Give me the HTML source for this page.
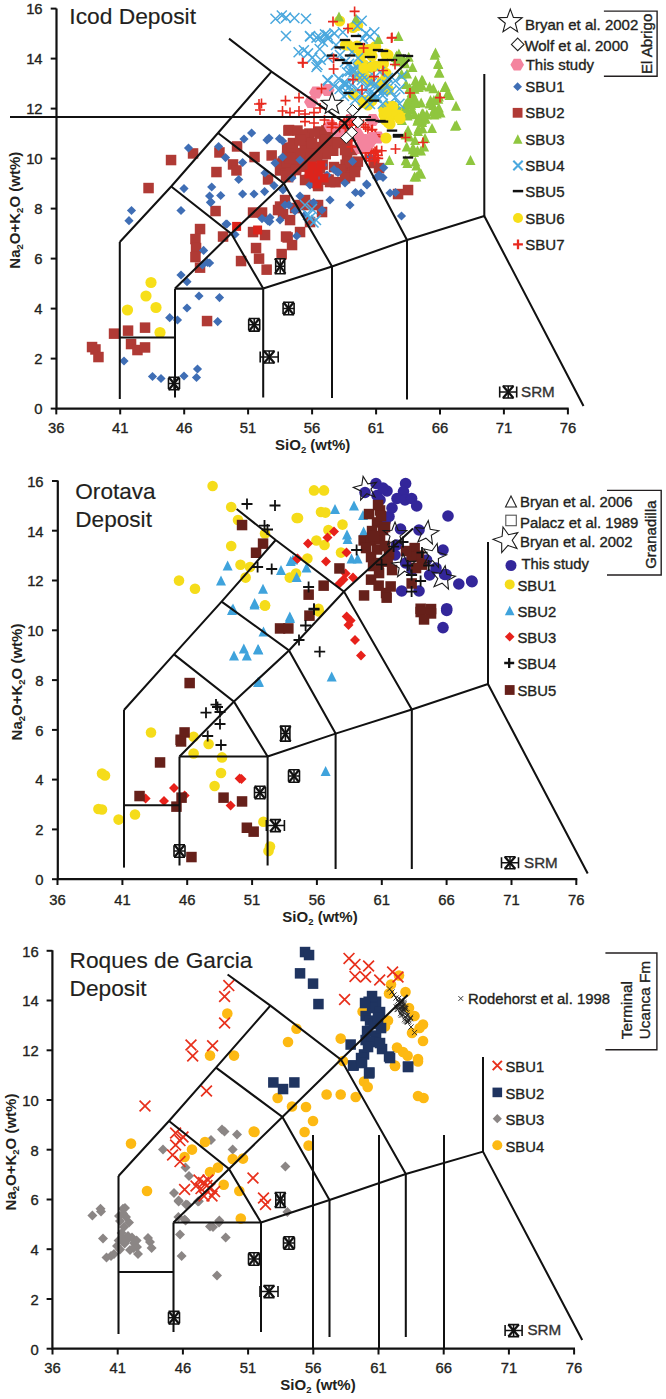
<!DOCTYPE html><html><head><meta charset="utf-8"><style>html,body{margin:0;padding:0;background:#fff}svg{display:block}text{font-family:"Liberation Sans",sans-serif}</style></head><body>
<svg width="666" height="1399" viewBox="0 0 666 1399">
<rect width="666" height="1399" fill="#fff"/>
<g>
<rect x="165.8" y="154.8" width="10.5" height="10.5" fill="#b03a35"/>
<rect x="143.3" y="182.8" width="10.5" height="10.5" fill="#b03a35"/>
<rect x="187.8" y="148.2" width="10.5" height="10.5" fill="#b03a35"/>
<rect x="214.2" y="147.2" width="10.5" height="10.5" fill="#b03a35"/>
<rect x="211.2" y="166.8" width="10.5" height="10.5" fill="#b03a35"/>
<rect x="231.8" y="141.2" width="10.5" height="10.5" fill="#b03a35"/>
<rect x="227.8" y="159.2" width="10.5" height="10.5" fill="#b03a35"/>
<rect x="231.2" y="165.2" width="10.5" height="10.5" fill="#b03a35"/>
<rect x="249.3" y="151.8" width="10.5" height="10.5" fill="#b03a35"/>
<rect x="266.4" y="150.2" width="10.5" height="10.5" fill="#b03a35"/>
<rect x="283.8" y="124.8" width="10.5" height="10.5" fill="#b03a35"/>
<rect x="210.3" y="205.8" width="10.5" height="10.5" fill="#b03a35"/>
<rect x="194.8" y="223.8" width="10.5" height="10.5" fill="#b03a35"/>
<rect x="217.8" y="231.3" width="10.5" height="10.5" fill="#b03a35"/>
<rect x="247.8" y="207.3" width="10.5" height="10.5" fill="#b03a35"/>
<rect x="256.8" y="207.3" width="10.5" height="10.5" fill="#b03a35"/>
<rect x="274.8" y="201.3" width="10.5" height="10.5" fill="#b03a35"/>
<rect x="277.8" y="208.8" width="10.5" height="10.5" fill="#b03a35"/>
<rect x="262.8" y="174.2" width="10.5" height="10.5" fill="#b03a35"/>
<rect x="274.8" y="165.2" width="10.5" height="10.5" fill="#b03a35"/>
<rect x="283.8" y="165.2" width="10.5" height="10.5" fill="#b03a35"/>
<rect x="247.8" y="226.8" width="10.5" height="10.5" fill="#b03a35"/>
<rect x="259.8" y="229.8" width="10.5" height="10.5" fill="#b03a35"/>
<rect x="280.8" y="231.3" width="10.5" height="10.5" fill="#b03a35"/>
<rect x="286.8" y="148.8" width="10.5" height="10.5" fill="#b03a35"/>
<rect x="190.2" y="233.8" width="10.5" height="10.5" fill="#b03a35"/>
<rect x="190.8" y="242.8" width="10.5" height="10.5" fill="#b03a35"/>
<rect x="190.2" y="251.8" width="10.5" height="10.5" fill="#b03a35"/>
<rect x="194.8" y="262.4" width="10.5" height="10.5" fill="#b03a35"/>
<rect x="250.8" y="242.8" width="10.5" height="10.5" fill="#b03a35"/>
<rect x="253.8" y="253.4" width="10.5" height="10.5" fill="#b03a35"/>
<rect x="235.8" y="255.8" width="10.5" height="10.5" fill="#b03a35"/>
<rect x="261.4" y="264.4" width="10.5" height="10.5" fill="#b03a35"/>
<rect x="282.4" y="232.2" width="10.5" height="10.5" fill="#b03a35"/>
<rect x="286.8" y="239.8" width="10.5" height="10.5" fill="#b03a35"/>
<rect x="276.4" y="248.8" width="10.5" height="10.5" fill="#b03a35"/>
<rect x="201.8" y="315.8" width="10.5" height="10.5" fill="#b03a35"/>
<rect x="139.8" y="322.4" width="10.5" height="10.5" fill="#b03a35"/>
<rect x="122.8" y="325.4" width="10.5" height="10.5" fill="#b03a35"/>
<rect x="108.8" y="328.4" width="10.5" height="10.5" fill="#b03a35"/>
<rect x="90.2" y="344.2" width="10.5" height="10.5" fill="#b03a35"/>
<rect x="93.2" y="351.8" width="10.5" height="10.5" fill="#b03a35"/>
<rect x="125.8" y="338.8" width="10.5" height="10.5" fill="#b03a35"/>
<rect x="132.2" y="344.8" width="10.5" height="10.5" fill="#b03a35"/>
<rect x="139.8" y="342.2" width="10.5" height="10.5" fill="#b03a35"/>
<rect x="86.8" y="341.8" width="10.5" height="10.5" fill="#b03a35"/>
<rect x="402.8" y="184.8" width="10.5" height="10.5" fill="#b03a35"/>
<rect x="392.8" y="188.8" width="10.5" height="10.5" fill="#b03a35"/>
<rect x="283.2" y="125.3" width="10.5" height="10.5" fill="#b03a35"/>
<rect x="292.2" y="125.3" width="10.5" height="10.5" fill="#b03a35"/>
<rect x="304.2" y="128.3" width="10.5" height="10.5" fill="#b03a35"/>
<rect x="314.8" y="128.3" width="10.5" height="10.5" fill="#b03a35"/>
<rect x="294.8" y="199.8" width="10.5" height="10.5" fill="#b03a35"/>
<rect x="303.8" y="199.8" width="10.5" height="10.5" fill="#b03a35"/>
<rect x="284.8" y="214.8" width="10.5" height="10.5" fill="#b03a35"/>
<rect x="294.8" y="226.8" width="10.5" height="10.5" fill="#b03a35"/>
<rect x="304.8" y="216.8" width="10.5" height="10.5" fill="#b03a35"/>
<rect x="296.6" y="135.2" width="10.5" height="10.5" fill="#b03a35"/>
<rect x="321.2" y="125.1" width="10.5" height="10.5" fill="#b03a35"/>
<rect x="315.9" y="144.3" width="10.5" height="10.5" fill="#b03a35"/>
<rect x="280.3" y="160.5" width="10.5" height="10.5" fill="#b03a35"/>
<rect x="277.7" y="156.5" width="10.5" height="10.5" fill="#b03a35"/>
<rect x="312.9" y="173.2" width="10.5" height="10.5" fill="#b03a35"/>
<rect x="281.9" y="142.8" width="10.5" height="10.5" fill="#b03a35"/>
<rect x="330.3" y="176.9" width="10.5" height="10.5" fill="#b03a35"/>
<rect x="319.5" y="145.4" width="10.5" height="10.5" fill="#b03a35"/>
<rect x="340.2" y="134.4" width="10.5" height="10.5" fill="#b03a35"/>
<rect x="303.7" y="174.5" width="10.5" height="10.5" fill="#b03a35"/>
<rect x="290.8" y="162.8" width="10.5" height="10.5" fill="#b03a35"/>
<rect x="324" y="143" width="10.5" height="10.5" fill="#b03a35"/>
<rect x="313" y="126.3" width="10.5" height="10.5" fill="#b03a35"/>
<rect x="328" y="145.5" width="10.5" height="10.5" fill="#b03a35"/>
<rect x="301.3" y="160.9" width="10.5" height="10.5" fill="#b03a35"/>
<rect x="308.6" y="141.8" width="10.5" height="10.5" fill="#b03a35"/>
<rect x="340.3" y="159.5" width="10.5" height="10.5" fill="#b03a35"/>
<rect x="295.7" y="161.4" width="10.5" height="10.5" fill="#b03a35"/>
<rect x="321.4" y="174.3" width="10.5" height="10.5" fill="#b03a35"/>
<rect x="330.1" y="136.5" width="10.5" height="10.5" fill="#b03a35"/>
<rect x="311.6" y="169.2" width="10.5" height="10.5" fill="#b03a35"/>
<rect x="287.4" y="157.9" width="10.5" height="10.5" fill="#b03a35"/>
<rect x="280.8" y="170.3" width="10.5" height="10.5" fill="#b03a35"/>
<rect x="341.8" y="135.6" width="10.5" height="10.5" fill="#b03a35"/>
<rect x="320.5" y="148.9" width="10.5" height="10.5" fill="#b03a35"/>
<rect x="314.8" y="162.8" width="10.5" height="10.5" fill="#b03a35"/>
<rect x="282.9" y="171.9" width="10.5" height="10.5" fill="#b03a35"/>
<rect x="337.3" y="134.8" width="10.5" height="10.5" fill="#b03a35"/>
<rect x="307.9" y="164.5" width="10.5" height="10.5" fill="#b03a35"/>
<rect x="276.9" y="158.4" width="10.5" height="10.5" fill="#b03a35"/>
<rect x="282.6" y="144.1" width="10.5" height="10.5" fill="#b03a35"/>
<rect x="310.8" y="176.4" width="10.5" height="10.5" fill="#b03a35"/>
<rect x="281.3" y="156.7" width="10.5" height="10.5" fill="#b03a35"/>
<rect x="323.4" y="174.4" width="10.5" height="10.5" fill="#b03a35"/>
<rect x="344.3" y="168.8" width="10.5" height="10.5" fill="#b03a35"/>
<rect x="296.4" y="151.5" width="10.5" height="10.5" fill="#b03a35"/>
<rect x="308.5" y="177.6" width="10.5" height="10.5" fill="#b03a35"/>
<rect x="286.1" y="142.4" width="10.5" height="10.5" fill="#b03a35"/>
<rect x="293.7" y="156.3" width="10.5" height="10.5" fill="#b03a35"/>
<rect x="318.8" y="137.3" width="10.5" height="10.5" fill="#b03a35"/>
<rect x="305.3" y="158.8" width="10.5" height="10.5" fill="#b03a35"/>
<rect x="352.6" y="156.4" width="10.5" height="10.5" fill="#b03a35"/>
<rect x="317.4" y="159.4" width="10.5" height="10.5" fill="#b03a35"/>
<rect x="323" y="123.6" width="10.5" height="10.5" fill="#b03a35"/>
<rect x="349.5" y="162.5" width="10.5" height="10.5" fill="#b03a35"/>
<rect x="347.8" y="164" width="10.5" height="10.5" fill="#b03a35"/>
<rect x="305.1" y="148.6" width="10.5" height="10.5" fill="#b03a35"/>
<rect x="285.4" y="167.2" width="10.5" height="10.5" fill="#b03a35"/>
<rect x="287.7" y="137.8" width="10.5" height="10.5" fill="#b03a35"/>
<rect x="296.7" y="129.2" width="10.5" height="10.5" fill="#b03a35"/>
<rect x="281.9" y="151.4" width="10.5" height="10.5" fill="#b03a35"/>
<rect x="319.3" y="130.2" width="10.5" height="10.5" fill="#b03a35"/>
<rect x="293.5" y="147.9" width="10.5" height="10.5" fill="#b03a35"/>
<rect x="299.4" y="132.9" width="10.5" height="10.5" fill="#b03a35"/>
<rect x="311.9" y="152.4" width="10.5" height="10.5" fill="#b03a35"/>
<rect x="299.5" y="141.6" width="10.5" height="10.5" fill="#b03a35"/>
<rect x="336.3" y="127.4" width="10.5" height="10.5" fill="#b03a35"/>
<rect x="368.8" y="157.8" width="10.5" height="10.5" fill="#b03a35"/>
<rect x="373.8" y="162.8" width="10.5" height="10.5" fill="#b03a35"/>
<rect x="346.8" y="144.8" width="10.5" height="10.5" fill="#b03a35"/>
<rect x="350.8" y="159.8" width="10.5" height="10.5" fill="#b03a35"/>
<rect x="344.8" y="170.8" width="10.5" height="10.5" fill="#b03a35"/>
<rect x="328.8" y="161.8" width="10.5" height="10.5" fill="#b03a35"/>
<rect x="335.8" y="163.8" width="10.5" height="10.5" fill="#b03a35"/>
<rect x="341.8" y="154.8" width="10.5" height="10.5" fill="#b03a35"/>
<rect x="279.8" y="194.8" width="10.5" height="10.5" fill="#b03a35"/>
<rect x="289.8" y="202.8" width="10.5" height="10.5" fill="#b03a35"/>
<rect x="299.8" y="194.8" width="10.5" height="10.5" fill="#b03a35"/>
<rect x="272.8" y="204.8" width="10.5" height="10.5" fill="#b03a35"/>
<rect x="312.8" y="199.8" width="10.5" height="10.5" fill="#b03a35"/>
<rect x="316.8" y="206.8" width="10.5" height="10.5" fill="#b03a35"/>
<rect x="294.8" y="134.8" width="10.5" height="10.5" fill="#b03a35"/>
<rect x="306.8" y="137.8" width="10.5" height="10.5" fill="#b03a35"/>
<rect x="320.8" y="134.8" width="10.5" height="10.5" fill="#b03a35"/>
<rect x="332.8" y="137.8" width="10.5" height="10.5" fill="#b03a35"/>
<rect x="339.8" y="144.8" width="10.5" height="10.5" fill="#b03a35"/>
<rect x="344.8" y="156.8" width="10.5" height="10.5" fill="#b03a35"/>
<rect x="334.8" y="164.8" width="10.5" height="10.5" fill="#b03a35"/>
<rect x="324.8" y="176.8" width="10.5" height="10.5" fill="#b03a35"/>
<rect x="312.8" y="180.8" width="10.5" height="10.5" fill="#b03a35"/>
<rect x="299.8" y="174.8" width="10.5" height="10.5" fill="#b03a35"/>
<rect x="290.8" y="164.8" width="10.5" height="10.5" fill="#b03a35"/>
<rect x="284.8" y="152.8" width="10.5" height="10.5" fill="#b03a35"/>
<rect x="339.8" y="172.8" width="10.5" height="10.5" fill="#b03a35"/>
<rect x="349.8" y="166.8" width="10.5" height="10.5" fill="#b03a35"/>
<path d="M352.5 156.8L357.1 161.4L352.5 166L347.9 161.4Z" fill="#3f6eb5"/>
<path d="M337.7 167.4L342.3 172L337.7 176.6L333.1 172Z" fill="#3f6eb5"/>
<path d="M334 164.9L338.6 169.5L334 174.1L329.4 169.5Z" fill="#3f6eb5"/>
<path d="M323 160.4L327.6 165L323 169.6L318.4 165Z" fill="#3f6eb5"/>
<path d="M366.6 179.4L371.2 184L366.6 188.6L362 184Z" fill="#3f6eb5"/>
<path d="M361 188.4L365.6 193L361 197.6L356.4 193Z" fill="#3f6eb5"/>
<path d="M370 152.4L374.6 157L370 161.6L365.4 157Z" fill="#3f6eb5"/>
<path d="M380 171.4L384.6 176L380 180.6L375.4 176Z" fill="#3f6eb5"/>
<path d="M383.7 163.1L388.3 167.7L383.7 172.3L379.1 167.7Z" fill="#3f6eb5"/>
<path d="M390 188.4L394.6 193L390 197.6L385.4 193Z" fill="#3f6eb5"/>
<path d="M376.5 173.1L381.1 177.7L376.5 182.3L371.9 177.7Z" fill="#3f6eb5"/>
<path d="M188.5 143.4L193.1 148L188.5 152.6L183.9 148Z" fill="#3f6eb5"/>
<path d="M218.6 141.9L223.2 146.5L218.6 151.1L214 146.5Z" fill="#3f6eb5"/>
<path d="M225.5 153L230.1 157.6L225.5 162.2L220.9 157.6Z" fill="#3f6eb5"/>
<path d="M244 134.4L248.6 139L244 143.6L239.4 139Z" fill="#3f6eb5"/>
<path d="M251.6 128.4L256.2 133L251.6 137.6L247 133Z" fill="#3f6eb5"/>
<path d="M267 135.4L271.6 140L267 144.6L262.4 140Z" fill="#3f6eb5"/>
<path d="M282.6 136.4L287.2 141L282.6 145.6L278 141Z" fill="#3f6eb5"/>
<path d="M242.6 157.9L247.2 162.5L242.6 167.1L238 162.5Z" fill="#3f6eb5"/>
<path d="M282.6 152.4L287.2 157L282.6 161.6L278 157Z" fill="#3f6eb5"/>
<path d="M275 158.4L279.6 163L275 167.6L270.4 163Z" fill="#3f6eb5"/>
<path d="M265 168.4L269.6 173L265 177.6L260.4 173Z" fill="#3f6eb5"/>
<path d="M238.7 174.9L243.3 179.5L238.7 184.1L234.1 179.5Z" fill="#3f6eb5"/>
<path d="M184 184L188.6 188.6L184 193.2L179.4 188.6Z" fill="#3f6eb5"/>
<path d="M211.7 182.4L216.3 187L211.7 191.6L207.1 187Z" fill="#3f6eb5"/>
<path d="M209.6 191.4L214.2 196L209.6 200.6L205 196Z" fill="#3f6eb5"/>
<path d="M220.7 190.9L225.3 195.5L220.7 200.1L216.1 195.5Z" fill="#3f6eb5"/>
<path d="M211 197.4L215.6 202L211 206.6L206.4 202Z" fill="#3f6eb5"/>
<path d="M181 205.9L185.6 210.5L181 215.1L176.4 210.5Z" fill="#3f6eb5"/>
<path d="M242.6 189.4L247.2 194L242.6 198.6L238 194Z" fill="#3f6eb5"/>
<path d="M254 189.4L258.6 194L254 198.6L249.4 194Z" fill="#3f6eb5"/>
<path d="M264.6 187L269.2 191.6L264.6 196.2L260 191.6Z" fill="#3f6eb5"/>
<path d="M274 181L278.6 185.6L274 190.2L269.4 185.6Z" fill="#3f6eb5"/>
<path d="M283 185.4L287.6 190L283 194.6L278.4 190Z" fill="#3f6eb5"/>
<path d="M131.5 205.9L136.1 210.5L131.5 215.1L126.9 210.5Z" fill="#3f6eb5"/>
<path d="M129 216.1L133.6 220.7L129 225.3L124.4 220.7Z" fill="#3f6eb5"/>
<path d="M227 219.4L231.6 224L227 228.6L222.4 224Z" fill="#3f6eb5"/>
<path d="M262 214L266.6 218.6L262 223.2L257.4 218.6Z" fill="#3f6eb5"/>
<path d="M269.7 217L274.3 221.6L269.7 226.2L265.1 221.6Z" fill="#3f6eb5"/>
<path d="M289 200.4L293.6 205L289 209.6L284.4 205Z" fill="#3f6eb5"/>
<path d="M295 206.4L299.6 211L295 215.6L290.4 211Z" fill="#3f6eb5"/>
<path d="M210.5 197.8L215.1 202.4L210.5 207L205.9 202.4Z" fill="#3f6eb5"/>
<path d="M226 219.4L230.6 224L226 228.6L221.4 224Z" fill="#3f6eb5"/>
<path d="M235 229.9L239.6 234.5L235 239.1L230.4 234.5Z" fill="#3f6eb5"/>
<path d="M203.6 245.8L208.2 250.4L203.6 255L199 250.4Z" fill="#3f6eb5"/>
<path d="M209.6 258.4L214.2 263L209.6 267.6L205 263Z" fill="#3f6eb5"/>
<path d="M181 270.4L185.6 275L181 279.6L176.4 275Z" fill="#3f6eb5"/>
<path d="M187 277.1L191.6 281.7L187 286.3L182.4 281.7Z" fill="#3f6eb5"/>
<path d="M199 291.4L203.6 296L199 300.6L194.4 296Z" fill="#3f6eb5"/>
<path d="M219.5 293L224.1 297.6L219.5 302.2L214.9 297.6Z" fill="#3f6eb5"/>
<path d="M187 303.4L191.6 308L187 312.6L182.4 308Z" fill="#3f6eb5"/>
<path d="M169.7 313.1L174.3 317.7L169.7 322.3L165.1 317.7Z" fill="#3f6eb5"/>
<path d="M177.5 315.4L182.1 320L177.5 324.6L172.9 320Z" fill="#3f6eb5"/>
<path d="M217.7 317L222.3 321.6L217.7 326.2L213.1 321.6Z" fill="#3f6eb5"/>
<path d="M296.7 231.4L301.3 236L296.7 240.6L292.1 236Z" fill="#3f6eb5"/>
<path d="M268 216.4L272.6 221L268 225.6L263.4 221Z" fill="#3f6eb5"/>
<path d="M124 356.4L128.6 361L124 365.6L119.4 361Z" fill="#3f6eb5"/>
<path d="M152.5 371.9L157.1 376.5L152.5 381.1L147.9 376.5Z" fill="#3f6eb5"/>
<path d="M161 373.9L165.6 378.5L161 383.1L156.4 378.5Z" fill="#3f6eb5"/>
<path d="M184 371.4L188.6 376L184 380.6L179.4 376Z" fill="#3f6eb5"/>
<path d="M197.5 364.4L202.1 369L197.5 373.6L192.9 369Z" fill="#3f6eb5"/>
<path d="M196.5 372.9L201.1 377.5L196.5 382.1L191.9 377.5Z" fill="#3f6eb5"/>
<path d="M202.5 260.4L207.1 265L202.5 269.6L197.9 265Z" fill="#3f6eb5"/>
<path d="M207.5 257.9L212.1 262.5L207.5 267.1L202.9 262.5Z" fill="#3f6eb5"/>
<path d="M313.5 197.9L318.1 202.5L313.5 207.1L308.9 202.5Z" fill="#3f6eb5"/>
<path d="M285 200.4L289.6 205L285 209.6L280.4 205Z" fill="#3f6eb5"/>
<path d="M270 212.9L274.6 217.5L270 222.1L265.4 217.5Z" fill="#3f6eb5"/>
<path d="M280 215.4L284.6 220L280 224.6L275.4 220Z" fill="#3f6eb5"/>
<path d="M383 172.9L387.6 177.5L383 182.1L378.4 177.5Z" fill="#3f6eb5"/>
<path d="M367 180.4L371.6 185L367 189.6L362.4 185Z" fill="#3f6eb5"/>
<path d="M395.5 187.9L400.1 192.5L395.5 197.1L390.9 192.5Z" fill="#3f6eb5"/>
<path d="M401.5 211.4L406.1 216L401.5 220.6L396.9 216Z" fill="#3f6eb5"/>
<path d="M379 170.4L383.6 175L379 179.6L374.4 175Z" fill="#3f6eb5"/>
<path d="M338 167.9L342.6 172.5L338 177.1L333.4 172.5Z" fill="#3f6eb5"/>
<path d="M355.5 187.9L360.1 192.5L355.5 197.1L350.9 192.5Z" fill="#3f6eb5"/>
<path d="M269 133.4L273.6 138L269 142.6L264.4 138Z" fill="#3f6eb5"/>
<path d="M279.5 134.1L284.1 138.7L279.5 143.3L274.9 138.7Z" fill="#3f6eb5"/>
<path d="M300 155.4L304.6 160L300 164.6L295.4 160Z" fill="#3f6eb5"/>
<path d="M310 180.4L314.6 185L310 189.6L305.4 185Z" fill="#3f6eb5"/>
<path d="M318 173.4L322.6 178L318 182.6L313.4 178Z" fill="#3f6eb5"/>
<path d="M327 170.4L331.6 175L327 179.6L322.4 175Z" fill="#3f6eb5"/>
<path d="M305 210.4L309.6 215L305 219.6L300.4 215Z" fill="#3f6eb5"/>
<path d="M322 205.4L326.6 210L322 214.6L317.4 210Z" fill="#3f6eb5"/>
<path d="M330 195.4L334.6 200L330 204.6L325.4 200Z" fill="#3f6eb5"/>
<path d="M345 178.4L349.6 183L345 187.6L340.4 183Z" fill="#3f6eb5"/>
<path d="M350 200.4L354.6 205L350 209.6L345.4 205Z" fill="#3f6eb5"/>
<path d="M300 191.4L304.6 196L300 200.6L295.4 196Z" fill="#3f6eb5"/>
<path d="M292 173.4L296.6 178L292 182.6L287.4 178Z" fill="#3f6eb5"/>
<rect x="232.1" y="221.9" width="9" height="9" fill="#dc241c"/>
<rect x="253.1" y="225.5" width="9" height="9" fill="#dc241c"/>
<rect x="307.5" y="161.5" width="9" height="9" fill="#dc241c"/>
<rect x="313.5" y="167.5" width="9" height="9" fill="#dc241c"/>
<rect x="319.5" y="173.5" width="9" height="9" fill="#dc241c"/>
<rect x="309.5" y="173.5" width="9" height="9" fill="#dc241c"/>
<rect x="316.5" y="160.5" width="9" height="9" fill="#dc241c"/>
<rect x="312.5" y="179.5" width="9" height="9" fill="#dc241c"/>
<rect x="304.5" y="169.5" width="9" height="9" fill="#dc241c"/>
<path d="M323 92.5L319.5 98.6L312.5 98.6L309 92.5L312.5 86.4L319.5 86.4Z" fill="#f4849e"/>
<path d="M334.6 90L331.1 96.1L324.1 96.1L320.6 90L324.1 83.9L331.1 83.9Z" fill="#f4849e"/>
<path d="M318 102L314.5 108.1L307.5 108.1L304 102L307.5 95.9L314.5 95.9Z" fill="#f4849e"/>
<path d="M337.6 126L334.1 132.1L327.1 132.1L323.6 126L327.1 119.9L334.1 119.9Z" fill="#f4849e"/>
<path d="M357 120L353.5 126.1L346.5 126.1L343 120L346.5 113.9L353.5 113.9Z" fill="#f4849e"/>
<path d="M379.6 120L376.1 126.1L369.1 126.1L365.6 120L369.1 113.9L376.1 113.9Z" fill="#f4849e"/>
<path d="M370 140L366.5 146.1L359.5 146.1L356 140L359.5 133.9L366.5 133.9Z" fill="#f4849e"/>
<path d="M385 137.5L381.5 143.6L374.5 143.6L371 137.5L374.5 131.4L381.5 131.4Z" fill="#f4849e"/>
<path d="M345.6 131L342.1 137.1L335.1 137.1L331.6 131L335.1 124.9L342.1 124.9Z" fill="#f4849e"/>
<path d="M376 143L372.5 149.1L365.5 149.1L362 143L365.5 136.9L372.5 136.9Z" fill="#f4849e"/>
<path d="M367 148L363.5 154.1L356.5 154.1L353 148L356.5 141.9L363.5 141.9Z" fill="#f4849e"/>
<circle cx="348" cy="45" r="5.6" fill="#f7df19"/>
<circle cx="363" cy="50" r="5.6" fill="#f7df19"/>
<circle cx="353" cy="27.5" r="5.6" fill="#f7df19"/>
<circle cx="388" cy="55" r="5.6" fill="#f7df19"/>
<circle cx="393" cy="115" r="5.6" fill="#f7df19"/>
<circle cx="385.5" cy="120" r="5.6" fill="#f7df19"/>
<circle cx="363" cy="102.5" r="5.6" fill="#f7df19"/>
<circle cx="339.6" cy="21" r="5.6" fill="#f7df19"/>
<circle cx="357.6" cy="25.5" r="5.6" fill="#f7df19"/>
<circle cx="345.6" cy="45" r="5.6" fill="#f7df19"/>
<circle cx="354.6" cy="48" r="5.6" fill="#f7df19"/>
<circle cx="368" cy="49.5" r="5.6" fill="#f7df19"/>
<circle cx="375.6" cy="46.5" r="5.6" fill="#f7df19"/>
<circle cx="386" cy="54" r="5.6" fill="#f7df19"/>
<circle cx="359" cy="64.5" r="5.6" fill="#f7df19"/>
<circle cx="366.6" cy="67.5" r="5.6" fill="#f7df19"/>
<circle cx="375.6" cy="66" r="5.6" fill="#f7df19"/>
<circle cx="363.6" cy="76.6" r="5.6" fill="#f7df19"/>
<circle cx="369.6" cy="81" r="5.6" fill="#f7df19"/>
<circle cx="368" cy="105" r="5.6" fill="#f7df19"/>
<circle cx="386" cy="111" r="5.6" fill="#f7df19"/>
<circle cx="395" cy="112.6" r="5.6" fill="#f7df19"/>
<circle cx="399.6" cy="115.6" r="5.6" fill="#f7df19"/>
<circle cx="389" cy="120" r="5.6" fill="#f7df19"/>
<circle cx="386" cy="138" r="5.6" fill="#f7df19"/>
<circle cx="127.5" cy="310" r="5.6" fill="#f7df19"/>
<circle cx="146" cy="296" r="5.6" fill="#f7df19"/>
<circle cx="156" cy="307.5" r="5.6" fill="#f7df19"/>
<circle cx="151" cy="282.5" r="5.6" fill="#f7df19"/>
<circle cx="160" cy="332.5" r="5.6" fill="#f7df19"/>
<circle cx="363.7" cy="64.7" r="5.6" fill="#f7df19"/>
<circle cx="383.4" cy="63.7" r="5.6" fill="#f7df19"/>
<circle cx="372" cy="56.1" r="5.6" fill="#f7df19"/>
<circle cx="382.3" cy="81.5" r="5.6" fill="#f7df19"/>
<circle cx="358.3" cy="76.3" r="5.6" fill="#f7df19"/>
<circle cx="386" cy="73.4" r="5.6" fill="#f7df19"/>
<circle cx="371.8" cy="100.8" r="5.6" fill="#f7df19"/>
<circle cx="367.3" cy="78.5" r="5.6" fill="#f7df19"/>
<circle cx="365.1" cy="100.6" r="5.6" fill="#f7df19"/>
<circle cx="381.1" cy="87.2" r="5.6" fill="#f7df19"/>
<circle cx="367.8" cy="67.6" r="5.6" fill="#f7df19"/>
<circle cx="353.1" cy="94.4" r="5.6" fill="#f7df19"/>
<circle cx="361.2" cy="55.1" r="5.6" fill="#f7df19"/>
<circle cx="388.3" cy="89.6" r="5.6" fill="#f7df19"/>
<circle cx="387.6" cy="106.8" r="5.6" fill="#f7df19"/>
<circle cx="387.9" cy="111.2" r="5.6" fill="#f7df19"/>
<circle cx="385.2" cy="110.9" r="5.6" fill="#f7df19"/>
<circle cx="401.5" cy="112.9" r="5.6" fill="#f7df19"/>
<circle cx="388.2" cy="109.1" r="5.6" fill="#f7df19"/>
<circle cx="391.5" cy="112.1" r="5.6" fill="#f7df19"/>
<circle cx="386" cy="112.1" r="5.6" fill="#f7df19"/>
<circle cx="383.8" cy="110" r="5.6" fill="#f7df19"/>
<circle cx="388.1" cy="106.7" r="5.6" fill="#f7df19"/>
<circle cx="393.7" cy="112.6" r="5.6" fill="#f7df19"/>
<path d="M435.5 47.5L440.5 57.5L430.5 57.5Z" fill="#8fc63f"/>
<path d="M438 58.5L443 68.5L433 68.5Z" fill="#8fc63f"/>
<path d="M439.5 67.5L444.5 77.5L434.5 77.5Z" fill="#8fc63f"/>
<path d="M445.5 81L450.5 91L440.5 91Z" fill="#8fc63f"/>
<path d="M449.5 90L454.5 100L444.5 100Z" fill="#8fc63f"/>
<path d="M433 100L438 110L428 110Z" fill="#8fc63f"/>
<path d="M440.5 107.5L445.5 117.5L435.5 117.5Z" fill="#8fc63f"/>
<path d="M456.5 120L461.5 130L451.5 130Z" fill="#8fc63f"/>
<path d="M418 126L423 136L413 136Z" fill="#8fc63f"/>
<path d="M413 142.5L418 152.5L408 152.5Z" fill="#8fc63f"/>
<path d="M470.5 155L475.5 165L465.5 165Z" fill="#8fc63f"/>
<path d="M378.5 34L383.5 44L373.5 44Z" fill="#8fc63f"/>
<path d="M398.5 31L403.5 41L393.5 41Z" fill="#8fc63f"/>
<path d="M412.5 62L417.5 72L407.5 72Z" fill="#8fc63f"/>
<path d="M399 50L404 60L394 60Z" fill="#8fc63f"/>
<path d="M407 68.6L412 78.6L402 78.6Z" fill="#8fc63f"/>
<path d="M406 79L411 89L401 89Z" fill="#8fc63f"/>
<path d="M415.7 79L420.7 89L410.7 89Z" fill="#8fc63f"/>
<path d="M339 11.5L344 21.5L334 21.5Z" fill="#8fc63f"/>
<path d="M356 13.6L361 23.6L351 23.6Z" fill="#8fc63f"/>
<path d="M396.6 50.5L401.6 60.5L391.6 60.5Z" fill="#8fc63f"/>
<path d="M444.6 82L449.6 92L439.6 92Z" fill="#8fc63f"/>
<path d="M447.6 88L452.6 98L442.6 98Z" fill="#8fc63f"/>
<path d="M422.1 80.5L427.1 90.5L417.1 90.5Z" fill="#8fc63f"/>
<path d="M422.6 75.2L427.6 85.2L417.6 85.2Z" fill="#8fc63f"/>
<path d="M422.1 117.1L427.1 127.1L417.1 127.1Z" fill="#8fc63f"/>
<path d="M434.8 104.6L439.8 114.6L429.8 114.6Z" fill="#8fc63f"/>
<path d="M411.9 90.1L416.9 100.1L406.9 100.1Z" fill="#8fc63f"/>
<path d="M408.3 108L413.3 118L403.3 118Z" fill="#8fc63f"/>
<path d="M422.2 108.3L427.2 118.3L417.2 118.3Z" fill="#8fc63f"/>
<path d="M414.5 83.8L419.5 93.8L409.5 93.8Z" fill="#8fc63f"/>
<path d="M434.4 109.5L439.4 119.5L429.4 119.5Z" fill="#8fc63f"/>
<path d="M433.1 106.6L438.1 116.6L428.1 116.6Z" fill="#8fc63f"/>
<path d="M410.6 96.8L415.6 106.8L405.6 106.8Z" fill="#8fc63f"/>
<path d="M415.5 75.3L420.5 85.3L410.5 85.3Z" fill="#8fc63f"/>
<path d="M411.8 104.5L416.8 114.5L406.8 114.5Z" fill="#8fc63f"/>
<path d="M438.3 93.7L443.3 103.7L433.3 103.7Z" fill="#8fc63f"/>
<path d="M438.3 90L443.3 100L433.3 100Z" fill="#8fc63f"/>
<path d="M410.4 84L415.4 94L405.4 94Z" fill="#8fc63f"/>
<path d="M409.5 83L414.5 93L404.5 93Z" fill="#8fc63f"/>
<path d="M425.7 113.6L430.7 123.6L420.7 123.6Z" fill="#8fc63f"/>
<path d="M433.9 95.1L438.9 105.1L428.9 105.1Z" fill="#8fc63f"/>
<path d="M426.8 109.2L431.8 119.2L421.8 119.2Z" fill="#8fc63f"/>
<path d="M405.2 103.1L410.2 113.1L400.2 113.1Z" fill="#8fc63f"/>
<path d="M436.6 108.4L441.6 118.4L431.6 118.4Z" fill="#8fc63f"/>
<path d="M430.5 95L435.5 105L425.5 105Z" fill="#8fc63f"/>
<path d="M408.8 108.7L413.8 118.7L403.8 118.7Z" fill="#8fc63f"/>
<path d="M414.6 109.2L419.6 119.2L409.6 119.2Z" fill="#8fc63f"/>
<path d="M438.9 91.4L443.9 101.4L433.9 101.4Z" fill="#8fc63f"/>
<path d="M417.3 115.7L422.3 125.7L412.3 125.7Z" fill="#8fc63f"/>
<path d="M429.5 81.5L434.5 91.5L424.5 91.5Z" fill="#8fc63f"/>
<path d="M407.6 110.4L412.6 120.4L402.6 120.4Z" fill="#8fc63f"/>
<path d="M415.3 98.1L420.3 108.1L410.3 108.1Z" fill="#8fc63f"/>
<path d="M438.9 102.6L443.9 112.6L433.9 112.6Z" fill="#8fc63f"/>
<path d="M422 115.1L427 125.1L417 125.1Z" fill="#8fc63f"/>
<path d="M418.5 112.4L423.5 122.4L413.5 122.4Z" fill="#8fc63f"/>
<path d="M433.4 83.3L438.4 93.3L428.4 93.3Z" fill="#8fc63f"/>
<path d="M411.6 86.9L416.6 96.9L406.6 96.9Z" fill="#8fc63f"/>
<path d="M411.1 99.8L416.1 109.8L406.1 109.8Z" fill="#8fc63f"/>
<path d="M411.9 92.4L416.9 102.4L406.9 102.4Z" fill="#8fc63f"/>
<path d="M415.4 94.2L420.4 104.2L410.4 104.2Z" fill="#8fc63f"/>
<path d="M424.2 113.8L429.2 123.8L419.2 123.8Z" fill="#8fc63f"/>
<path d="M418 114.4L423 124.4L413 124.4Z" fill="#8fc63f"/>
<path d="M421.1 97.4L426.1 107.4L416.1 107.4Z" fill="#8fc63f"/>
<path d="M421.9 74.8L426.9 84.8L416.9 84.8Z" fill="#8fc63f"/>
<path d="M418.7 82.1L423.7 92.1L413.7 92.1Z" fill="#8fc63f"/>
<path d="M408.5 94.8L413.5 104.8L403.5 104.8Z" fill="#8fc63f"/>
<path d="M429.6 98.5L434.6 108.5L424.6 108.5Z" fill="#8fc63f"/>
<path d="M414.4 96.8L419.4 106.8L409.4 106.8Z" fill="#8fc63f"/>
<path d="M423.1 108.5L428.1 118.5L418.1 118.5Z" fill="#8fc63f"/>
<path d="M406 98.7L411 108.7L401 108.7Z" fill="#8fc63f"/>
<path d="M409.5 131.6L414.5 141.6L404.5 141.6Z" fill="#8fc63f"/>
<path d="M421 145.5L426 155.5L416 155.5Z" fill="#8fc63f"/>
<path d="M416.4 160.6L421.4 170.6L411.4 170.6Z" fill="#8fc63f"/>
<path d="M424.1 141.6L429.1 151.6L419.1 151.6Z" fill="#8fc63f"/>
<path d="M417.5 145.3L422.5 155.3L412.5 155.3Z" fill="#8fc63f"/>
<path d="M415.3 156.6L420.3 166.6L410.3 166.6Z" fill="#8fc63f"/>
<path d="M414 147L419 157L409 157Z" fill="#8fc63f"/>
<path d="M414.5 171.5L419.5 181.5L409.5 181.5Z" fill="#8fc63f"/>
<path d="M419.4 167.6L424.4 177.6L414.4 177.6Z" fill="#8fc63f"/>
<path d="M416.3 171.6L421.3 181.6L411.3 181.6Z" fill="#8fc63f"/>
<path d="M422.5 123.2L427.5 133.2L417.5 133.2Z" fill="#8fc63f"/>
<path d="M406.7 141.5L411.7 151.5L401.7 151.5Z" fill="#8fc63f"/>
<path d="M405.6 129.4L410.6 139.4L400.6 139.4Z" fill="#8fc63f"/>
<path d="M405.6 155.2L410.6 165.2L400.6 165.2Z" fill="#8fc63f"/>
<path d="M421.2 168.8L426.2 178.8L416.2 178.8Z" fill="#8fc63f"/>
<path d="M407.4 158L412.4 168L402.4 168Z" fill="#8fc63f"/>
<path d="M418.5 123.6L423.5 133.6L413.5 133.6Z" fill="#8fc63f"/>
<path d="M412.8 144.2L417.8 154.2L407.8 154.2Z" fill="#8fc63f"/>
<path d="M396.9 56.2L401.9 66.2L391.9 66.2Z" fill="#8fc63f"/>
<path d="M403.3 53.8L408.3 63.8L398.3 63.8Z" fill="#8fc63f"/>
<path d="M397.5 53.3L402.5 63.3L392.5 63.3Z" fill="#8fc63f"/>
<path d="M404 56.5L409 66.5L399 66.5Z" fill="#8fc63f"/>
<path d="M405.2 58.3L410.2 68.3L400.2 68.3Z" fill="#8fc63f"/>
<path d="M395.9 51.9L400.9 61.9L390.9 61.9Z" fill="#8fc63f"/>
<path d="M398.9 48.4L403.9 58.4L393.9 58.4Z" fill="#8fc63f"/>
<path d="M401.6 68.7L406.6 78.7L396.6 78.7Z" fill="#8fc63f"/>
<path d="M408.7 51.7L413.7 61.7L403.7 61.7Z" fill="#8fc63f"/>
<path d="M434.6 49.7L439.6 59.7L429.6 59.7Z" fill="#8fc63f"/>
<path d="M438.4 59L443.4 69L433.4 69Z" fill="#8fc63f"/>
<path d="M438.8 67.5L443.8 77.5L433.8 77.5Z" fill="#8fc63f"/>
<path d="M456 100.8L461 110.8L451 110.8Z" fill="#8fc63f"/>
<path d="M455 120.7L460 130.7L450 130.7Z" fill="#8fc63f"/>
<path d="M389.4 155L394.4 165L384.4 165Z" fill="#8fc63f"/>
<path d="M402 115L407 125L397 125Z" fill="#8fc63f"/>
<path d="M408 125L413 135L403 135Z" fill="#8fc63f"/>
<path d="M415 135L420 145L410 145Z" fill="#8fc63f"/>
<path d="M398 103L403 113L393 113Z" fill="#8fc63f"/>
<path d="M425 133L430 143L420 143Z" fill="#8fc63f"/>
<path d="M432 123L437 133L427 133Z" fill="#8fc63f"/>
<path d="M270.5 13.7L280.5 23.7M270.5 23.7L280.5 13.7" stroke="#4aa8de" stroke-width="1.5" fill="none"/>
<path d="M276.8 10.5L286.8 20.5M276.8 20.5L286.8 10.5" stroke="#4aa8de" stroke-width="1.5" fill="none"/>
<path d="M281 12.6L291 22.6M281 22.6L291 12.6" stroke="#4aa8de" stroke-width="1.5" fill="none"/>
<path d="M289.4 13L299.4 23M289.4 23L299.4 13" stroke="#4aa8de" stroke-width="1.5" fill="none"/>
<path d="M301 13.7L311 23.7M301 23.7L311 13.7" stroke="#4aa8de" stroke-width="1.5" fill="none"/>
<path d="M281 31L291 41M281 41L291 31" stroke="#4aa8de" stroke-width="1.5" fill="none"/>
<path d="M305.2 31.5L315.2 41.5M305.2 41.5L315.2 31.5" stroke="#4aa8de" stroke-width="1.5" fill="none"/>
<path d="M311.5 32.6L321.5 42.6M311.5 42.6L321.5 32.6" stroke="#4aa8de" stroke-width="1.5" fill="none"/>
<path d="M320 29.4L330 39.4M320 39.4L330 29.4" stroke="#4aa8de" stroke-width="1.5" fill="none"/>
<path d="M323 33.6L333 43.6M323 43.6L333 33.6" stroke="#4aa8de" stroke-width="1.5" fill="none"/>
<path d="M317.8 36.8L327.8 46.8M317.8 46.8L327.8 36.8" stroke="#4aa8de" stroke-width="1.5" fill="none"/>
<path d="M329.4 28.4L339.4 38.4M329.4 38.4L339.4 28.4" stroke="#4aa8de" stroke-width="1.5" fill="none"/>
<path d="M337.8 27.3L347.8 37.3M337.8 37.3L347.8 27.3" stroke="#4aa8de" stroke-width="1.5" fill="none"/>
<path d="M352.5 21L362.5 31M352.5 31L362.5 21" stroke="#4aa8de" stroke-width="1.5" fill="none"/>
<path d="M356.7 15.8L366.7 25.8M356.7 25.8L366.7 15.8" stroke="#4aa8de" stroke-width="1.5" fill="none"/>
<path d="M361 28.4L371 38.4M361 38.4L371 28.4" stroke="#4aa8de" stroke-width="1.5" fill="none"/>
<path d="M365 31.5L375 41.5M365 41.5L375 31.5" stroke="#4aa8de" stroke-width="1.5" fill="none"/>
<path d="M369.3 27.3L379.3 37.3M369.3 37.3L379.3 27.3" stroke="#4aa8de" stroke-width="1.5" fill="none"/>
<path d="M357.7 33.6L367.7 43.6M357.7 43.6L367.7 33.6" stroke="#4aa8de" stroke-width="1.5" fill="none"/>
<path d="M293.6 47.3L303.6 57.3M293.6 57.3L303.6 47.3" stroke="#4aa8de" stroke-width="1.5" fill="none"/>
<path d="M298.9 45.2L308.9 55.2M298.9 55.2L308.9 45.2" stroke="#4aa8de" stroke-width="1.5" fill="none"/>
<path d="M303 48.4L313 58.4M303 58.4L313 48.4" stroke="#4aa8de" stroke-width="1.5" fill="none"/>
<path d="M307.3 52.6L317.3 62.6M307.3 62.6L317.3 52.6" stroke="#4aa8de" stroke-width="1.5" fill="none"/>
<path d="M314.7 44L324.7 54M314.7 54L324.7 44" stroke="#4aa8de" stroke-width="1.5" fill="none"/>
<path d="M315.7 54.7L325.7 64.7M315.7 64.7L325.7 54.7" stroke="#4aa8de" stroke-width="1.5" fill="none"/>
<path d="M311.5 62L321.5 72M311.5 72L321.5 62" stroke="#4aa8de" stroke-width="1.5" fill="none"/>
<path d="M323 52.6L333 62.6M323 62.6L333 52.6" stroke="#4aa8de" stroke-width="1.5" fill="none"/>
<path d="M323 75.7L333 85.7M323 85.7L333 75.7" stroke="#4aa8de" stroke-width="1.5" fill="none"/>
<path d="M329.4 81L339.4 91M329.4 91L339.4 81" stroke="#4aa8de" stroke-width="1.5" fill="none"/>
<path d="M333.6 73.6L343.6 83.6M333.6 83.6L343.6 73.6" stroke="#4aa8de" stroke-width="1.5" fill="none"/>
<path d="M338.8 77.8L348.8 87.8M338.8 87.8L348.8 77.8" stroke="#4aa8de" stroke-width="1.5" fill="none"/>
<path d="M334.6 84L344.6 94M334.6 94L344.6 84" stroke="#4aa8de" stroke-width="1.5" fill="none"/>
<path d="M342 67.3L352 77.3M342 77.3L352 67.3" stroke="#4aa8de" stroke-width="1.5" fill="none"/>
<path d="M346.2 80L356.2 90M346.2 90L356.2 80" stroke="#4aa8de" stroke-width="1.5" fill="none"/>
<path d="M349.3 72.5L359.3 82.5M349.3 82.5L359.3 72.5" stroke="#4aa8de" stroke-width="1.5" fill="none"/>
<path d="M343 88.3L353 98.3M343 98.3L353 88.3" stroke="#4aa8de" stroke-width="1.5" fill="none"/>
<path d="M352.5 84L362.5 94M352.5 94L362.5 84" stroke="#4aa8de" stroke-width="1.5" fill="none"/>
<path d="M356.7 90.4L366.7 100.4M356.7 100.4L366.7 90.4" stroke="#4aa8de" stroke-width="1.5" fill="none"/>
<path d="M361 82L371 92M361 92L371 82" stroke="#4aa8de" stroke-width="1.5" fill="none"/>
<path d="M365 88.3L375 98.3M365 98.3L375 88.3" stroke="#4aa8de" stroke-width="1.5" fill="none"/>
<path d="M369.3 80L379.3 90M369.3 90L379.3 80" stroke="#4aa8de" stroke-width="1.5" fill="none"/>
<path d="M373.5 84L383.5 94M373.5 94L383.5 84" stroke="#4aa8de" stroke-width="1.5" fill="none"/>
<path d="M377.7 90.4L387.7 100.4M377.7 100.4L387.7 90.4" stroke="#4aa8de" stroke-width="1.5" fill="none"/>
<path d="M382 80L392 90M382 90L392 80" stroke="#4aa8de" stroke-width="1.5" fill="none"/>
<path d="M386 86.2L396 96.2M386 96.2L396 86.2" stroke="#4aa8de" stroke-width="1.5" fill="none"/>
<path d="M390.3 92.5L400.3 102.5M390.3 102.5L400.3 92.5" stroke="#4aa8de" stroke-width="1.5" fill="none"/>
<path d="M394.5 84L404.5 94M394.5 94L404.5 84" stroke="#4aa8de" stroke-width="1.5" fill="none"/>
<path d="M377.7 98.8L387.7 108.8M377.7 108.8L387.7 98.8" stroke="#4aa8de" stroke-width="1.5" fill="none"/>
<path d="M386 101L396 111M386 111L396 101" stroke="#4aa8de" stroke-width="1.5" fill="none"/>
<path d="M394.5 98.8L404.5 108.8M394.5 108.8L404.5 98.8" stroke="#4aa8de" stroke-width="1.5" fill="none"/>
<path d="M390.3 75.7L400.3 85.7M390.3 85.7L400.3 75.7" stroke="#4aa8de" stroke-width="1.5" fill="none"/>
<path d="M396.6 71.5L406.6 81.5M396.6 81.5L406.6 71.5" stroke="#4aa8de" stroke-width="1.5" fill="none"/>
<path d="M352.5 63L362.5 73M352.5 73L362.5 63" stroke="#4aa8de" stroke-width="1.5" fill="none"/>
<path d="M344 58.9L354 68.9M344 68.9L354 58.9" stroke="#4aa8de" stroke-width="1.5" fill="none"/>
<path d="M308.5 217.5L318.5 227.5M308.5 227.5L318.5 217.5" stroke="#4aa8de" stroke-width="1.5" fill="none"/>
<path d="M305 213L315 223M305 223L315 213" stroke="#4aa8de" stroke-width="1.5" fill="none"/>
<path d="M303 210L313 220M303 220L313 210" stroke="#4aa8de" stroke-width="1.5" fill="none"/>
<path d="M307 204L317 214M307 214L317 204" stroke="#4aa8de" stroke-width="1.5" fill="none"/>
<path d="M311 215L321 225M311 225L321 215" stroke="#4aa8de" stroke-width="1.5" fill="none"/>
<path d="M300 200L310 210M300 210L310 200" stroke="#4aa8de" stroke-width="1.5" fill="none"/>
<path d="M322.5 30L332.5 40M322.5 40L332.5 30" stroke="#4aa8de" stroke-width="1.5" fill="none"/>
<path d="M315 32.5L325 42.5M315 42.5L325 32.5" stroke="#4aa8de" stroke-width="1.5" fill="none"/>
<path d="M305 31L315 41M305 41L315 31" stroke="#4aa8de" stroke-width="1.5" fill="none"/>
<path d="M312.5 60L322.5 70M312.5 70L322.5 60" stroke="#4aa8de" stroke-width="1.5" fill="none"/>
<path d="M322.5 75L332.5 85M322.5 85L332.5 75" stroke="#4aa8de" stroke-width="1.5" fill="none"/>
<path d="M331 40L341 50M331 50L341 40" stroke="#4aa8de" stroke-width="1.5" fill="none"/>
<path d="M335 50L345 60M335 60L345 50" stroke="#4aa8de" stroke-width="1.5" fill="none"/>
<path d="M340 57L350 67M340 67L350 57" stroke="#4aa8de" stroke-width="1.5" fill="none"/>
<path d="M347 47L357 57M347 57L357 47" stroke="#4aa8de" stroke-width="1.5" fill="none"/>
<path d="M353 53L363 63M353 63L363 53" stroke="#4aa8de" stroke-width="1.5" fill="none"/>
<path d="M361 61L371 71M361 71L371 61" stroke="#4aa8de" stroke-width="1.5" fill="none"/>
<path d="M367 69L377 79M367 79L377 69" stroke="#4aa8de" stroke-width="1.5" fill="none"/>
<path d="M375 67L385 77M375 77L385 67" stroke="#4aa8de" stroke-width="1.5" fill="none"/>
<path d="M383 73L393 83M383 83L393 73" stroke="#4aa8de" stroke-width="1.5" fill="none"/>
<path d="M371 93L381 103M371 103L381 93" stroke="#4aa8de" stroke-width="1.5" fill="none"/>
<path d="M381 105L391 115M381 115L391 105" stroke="#4aa8de" stroke-width="1.5" fill="none"/>
<path d="M391 107L401 117M391 117L401 107" stroke="#4aa8de" stroke-width="1.5" fill="none"/>
<path d="M365 99L375 109M365 109L375 99" stroke="#4aa8de" stroke-width="1.5" fill="none"/>
<path d="M357 75L367 85M357 85L367 75" stroke="#4aa8de" stroke-width="1.5" fill="none"/>
<path d="M350 95L360 105M350 105L360 95" stroke="#4aa8de" stroke-width="1.5" fill="none"/>
<path d="M339 91L349 101M339 101L349 91" stroke="#4aa8de" stroke-width="1.5" fill="none"/>
<path d="M344.4 81.7L354.4 91.7M344.4 91.7L354.4 81.7" stroke="#4aa8de" stroke-width="1.5" fill="none"/>
<path d="M369.1 88.4L379.1 98.4M369.1 98.4L379.1 88.4" stroke="#4aa8de" stroke-width="1.5" fill="none"/>
<path d="M348.4 64.6L358.4 74.6M348.4 74.6L358.4 64.6" stroke="#4aa8de" stroke-width="1.5" fill="none"/>
<path d="M377.9 86.4L387.9 96.4M377.9 96.4L387.9 86.4" stroke="#4aa8de" stroke-width="1.5" fill="none"/>
<path d="M340 80.1L350 90.1M340 90.1L350 80.1" stroke="#4aa8de" stroke-width="1.5" fill="none"/>
<path d="M371.8 91.9L381.8 101.9M371.8 101.9L381.8 91.9" stroke="#4aa8de" stroke-width="1.5" fill="none"/>
<path d="M341.4 78.9L351.4 88.9M341.4 88.9L351.4 78.9" stroke="#4aa8de" stroke-width="1.5" fill="none"/>
<path d="M340.4 78.6L350.4 88.6M340.4 88.6L350.4 78.6" stroke="#4aa8de" stroke-width="1.5" fill="none"/>
<path d="M365.8 78.9L375.8 88.9M365.8 88.9L375.8 78.9" stroke="#4aa8de" stroke-width="1.5" fill="none"/>
<path d="M366.3 92.1L376.3 102.1M366.3 102.1L376.3 92.1" stroke="#4aa8de" stroke-width="1.5" fill="none"/>
<path d="M357.5 70.4L367.5 80.4M357.5 80.4L367.5 70.4" stroke="#4aa8de" stroke-width="1.5" fill="none"/>
<path d="M370.7 78.9L380.7 88.9M370.7 88.9L380.7 78.9" stroke="#4aa8de" stroke-width="1.5" fill="none"/>
<path d="M348.6 67L358.6 77M348.6 77L358.6 67" stroke="#4aa8de" stroke-width="1.5" fill="none"/>
<path d="M345.1 66.2L355.1 76.2M345.1 76.2L355.1 66.2" stroke="#4aa8de" stroke-width="1.5" fill="none"/>
<circle cx="387.8" cy="116.5" r="5.6" fill="#f7df19"/>
<circle cx="386.6" cy="115.4" r="5.6" fill="#f7df19"/>
<circle cx="398.8" cy="115.2" r="5.6" fill="#f7df19"/>
<circle cx="400" cy="118.7" r="5.6" fill="#f7df19"/>
<circle cx="388.2" cy="122.2" r="5.6" fill="#f7df19"/>
<circle cx="392.8" cy="106.4" r="5.6" fill="#f7df19"/>
<circle cx="384.1" cy="114.9" r="5.6" fill="#f7df19"/>
<circle cx="392.1" cy="111.4" r="5.6" fill="#f7df19"/>
<circle cx="386.5" cy="112.2" r="5.6" fill="#f7df19"/>
<circle cx="357" cy="46" r="5.6" fill="#f7df19"/>
<circle cx="372" cy="49" r="5.6" fill="#f7df19"/>
<circle cx="364" cy="68" r="5.6" fill="#f7df19"/>
<circle cx="372" cy="67" r="5.6" fill="#f7df19"/>
<circle cx="387" cy="56" r="5.6" fill="#f7df19"/>
<circle cx="390" cy="124" r="5.6" fill="#f7df19"/>
<path d="M372.8 50L383.2 50" stroke="#111" stroke-width="2.3"/>
<path d="M377.8 60L388.2 60" stroke="#111" stroke-width="2.3"/>
<path d="M402.8 56L413.2 56" stroke="#111" stroke-width="2.3"/>
<path d="M392.8 135L403.2 135" stroke="#111" stroke-width="2.3"/>
<path d="M402.8 157.5L413.2 157.5" stroke="#111" stroke-width="2.3"/>
<path d="M365.3 120L375.7 120" stroke="#111" stroke-width="2.3"/>
<path d="M375.3 121L385.7 121" stroke="#111" stroke-width="2.3"/>
<path d="M350.8 36L361.2 36" stroke="#111" stroke-width="2.3"/>
<path d="M334.4 47.4L344.8 47.4" stroke="#111" stroke-width="2.3"/>
<path d="M344.8 55.5L355.2 55.5" stroke="#111" stroke-width="2.3"/>
<path d="M377.8 51L388.2 51" stroke="#111" stroke-width="2.3"/>
<path d="M326.8 55.5L337.2 55.5" stroke="#111" stroke-width="2.3"/>
<path d="M334.4 60L344.8 60" stroke="#111" stroke-width="2.3"/>
<path d="M341.8 63L352.2 63" stroke="#111" stroke-width="2.3"/>
<path d="M386.8 60L397.2 60" stroke="#111" stroke-width="2.3"/>
<path d="M395.8 55.5L406.2 55.5" stroke="#111" stroke-width="2.3"/>
<path d="M343.4 93L353.8 93" stroke="#111" stroke-width="2.3"/>
<path d="M368.8 100.6L379.2 100.6" stroke="#111" stroke-width="2.3"/>
<path d="M377.8 121.6L388.2 121.6" stroke="#111" stroke-width="2.3"/>
<path d="M386.8 130.6L397.2 130.6" stroke="#111" stroke-width="2.3"/>
<path d="M392.8 136.6L403.2 136.6" stroke="#111" stroke-width="2.3"/>
<path d="M354.8 44L365.2 44" stroke="#111" stroke-width="2.3"/>
<path d="M364.8 57L375.2 57" stroke="#111" stroke-width="2.3"/>
<path d="M339.8 40L350.2 40" stroke="#111" stroke-width="2.3"/>
<path d="M349.6 11.4L359.6 11.4M354.6 6.4L354.6 16.4" stroke="#e8281e" stroke-width="1.6" fill="none"/>
<path d="M328 21.6L338 21.6M333 16.6L333 26.6" stroke="#e8281e" stroke-width="1.6" fill="none"/>
<path d="M343 28.5L353 28.5M348 23.5L348 33.5" stroke="#e8281e" stroke-width="1.6" fill="none"/>
<path d="M386.5 38L396.5 38M391.5 33L391.5 43" stroke="#e8281e" stroke-width="1.6" fill="none"/>
<path d="M298 63L308 63M303 58L303 68" stroke="#e8281e" stroke-width="1.6" fill="none"/>
<path d="M328.6 58.5L338.6 58.5M333.6 53.5L333.6 63.5" stroke="#e8281e" stroke-width="1.6" fill="none"/>
<path d="M328.6 69L338.6 69M333.6 64L333.6 74" stroke="#e8281e" stroke-width="1.6" fill="none"/>
<path d="M358.6 48L368.6 48M363.6 43L363.6 53" stroke="#e8281e" stroke-width="1.6" fill="none"/>
<path d="M348 79.6L358 79.6M353 74.6L353 84.6" stroke="#e8281e" stroke-width="1.6" fill="none"/>
<path d="M369 76.6L379 76.6M374 71.6L374 81.6" stroke="#e8281e" stroke-width="1.6" fill="none"/>
<path d="M378 70.5L388 70.5M383 65.5L383 75.5" stroke="#e8281e" stroke-width="1.6" fill="none"/>
<path d="M390 64.5L400 64.5M395 59.5L395 69.5" stroke="#e8281e" stroke-width="1.6" fill="none"/>
<path d="M316.5 88.6L326.5 88.6M321.5 83.6L321.5 93.6" stroke="#e8281e" stroke-width="1.6" fill="none"/>
<path d="M294 97.6L304 97.6M299 92.6L299 102.6" stroke="#e8281e" stroke-width="1.6" fill="none"/>
<path d="M280.5 100.6L290.5 100.6M285.5 95.6L285.5 105.6" stroke="#e8281e" stroke-width="1.6" fill="none"/>
<path d="M256.5 103.6L266.5 103.6M261.5 98.6L261.5 108.6" stroke="#e8281e" stroke-width="1.6" fill="none"/>
<path d="M277.5 111L287.5 111M282.5 106L282.5 116" stroke="#e8281e" stroke-width="1.6" fill="none"/>
<path d="M285 112.6L295 112.6M290 107.6L290 117.6" stroke="#e8281e" stroke-width="1.6" fill="none"/>
<path d="M294 111L304 111M299 106L299 116" stroke="#e8281e" stroke-width="1.6" fill="none"/>
<path d="M300 114L310 114M305 109L305 119" stroke="#e8281e" stroke-width="1.6" fill="none"/>
<path d="M309 112.6L319 112.6M314 107.6L314 117.6" stroke="#e8281e" stroke-width="1.6" fill="none"/>
<path d="M315 108L325 108M320 103L320 113" stroke="#e8281e" stroke-width="1.6" fill="none"/>
<path d="M319.5 120L329.5 120M324.5 115L324.5 125" stroke="#e8281e" stroke-width="1.6" fill="none"/>
<path d="M309 123L319 123M314 118L314 128" stroke="#e8281e" stroke-width="1.6" fill="none"/>
<path d="M300 121.6L310 121.6M305 116.6L305 126.6" stroke="#e8281e" stroke-width="1.6" fill="none"/>
<path d="M327 123L337 123M332 118L332 128" stroke="#e8281e" stroke-width="1.6" fill="none"/>
<path d="M334.6 127.6L344.6 127.6M339.6 122.6L339.6 132.6" stroke="#e8281e" stroke-width="1.6" fill="none"/>
<path d="M358.6 124.6L368.6 124.6M363.6 119.6L363.6 129.6" stroke="#e8281e" stroke-width="1.6" fill="none"/>
<path d="M363 129L373 129M368 124L368 134" stroke="#e8281e" stroke-width="1.6" fill="none"/>
<path d="M351 132L361 132M356 127L356 137" stroke="#e8281e" stroke-width="1.6" fill="none"/>
<path d="M357 90L367 90M362 85L362 95" stroke="#e8281e" stroke-width="1.6" fill="none"/>
<path d="M405 93L415 93M410 88L410 98" stroke="#e8281e" stroke-width="1.6" fill="none"/>
<path d="M435 97.6L445 97.6M440 92.6L440 102.6" stroke="#e8281e" stroke-width="1.6" fill="none"/>
<path d="M254 104L264 104M259 99L259 109" stroke="#e8281e" stroke-width="1.6" fill="none"/>
<path d="M255 110L265 110M260 105L260 115" stroke="#e8281e" stroke-width="1.6" fill="none"/>
<path d="M400.5 137.5L410.5 137.5M405.5 132.5L405.5 142.5" stroke="#e8281e" stroke-width="1.6" fill="none"/>
<path d="M418 142.5L428 142.5M423 137.5L423 147.5" stroke="#e8281e" stroke-width="1.6" fill="none"/>
<path d="M390.5 149L400.5 149M395.5 144L395.5 154" stroke="#e8281e" stroke-width="1.6" fill="none"/>
<path d="M387 37.5L397 37.5M392 32.5L392 42.5" stroke="#e8281e" stroke-width="1.6" fill="none"/>
<path d="M297.5 62.5L307.5 62.5M302.5 57.5L302.5 67.5" stroke="#e8281e" stroke-width="1.6" fill="none"/>
<path d="M371 152L381 152M376 147L376 157" stroke="#e8281e" stroke-width="1.6" fill="none"/>
<path d="M369.6 160.4L379.6 160.4M374.6 155.4L374.6 165.4" stroke="#e8281e" stroke-width="1.6" fill="none"/>
<path d="M356.6 139.4L366.6 139.4M361.6 134.4L361.6 144.4" stroke="#e8281e" stroke-width="1.6" fill="none"/>
<path d="M370 151.4L380 151.4M375 146.4L375 156.4" stroke="#e8281e" stroke-width="1.6" fill="none"/>
<path d="M376.7 150.8L386.7 150.8M381.7 145.8L381.7 155.8" stroke="#e8281e" stroke-width="1.6" fill="none"/>
<path d="M370.4 157.9L380.4 157.9M375.4 152.9L375.4 162.9" stroke="#e8281e" stroke-width="1.6" fill="none"/>
<path d="M346.6 146.9L356.6 146.9M351.6 141.9L351.6 151.9" stroke="#e8281e" stroke-width="1.6" fill="none"/>
<path d="M361.2 158.7L371.2 158.7M366.2 153.7L366.2 163.7" stroke="#e8281e" stroke-width="1.6" fill="none"/>
<path d="M373.2 158.4L383.2 158.4M378.2 153.4L378.2 163.4" stroke="#e8281e" stroke-width="1.6" fill="none"/>
<path d="M364.4 160.9L374.4 160.9M369.4 155.9L369.4 165.9" stroke="#e8281e" stroke-width="1.6" fill="none"/>
<path d="M368.3 153.3L378.3 153.3M373.3 148.3L373.3 158.3" stroke="#e8281e" stroke-width="1.6" fill="none"/>
<path d="M346.3 140.7L356.3 140.7M351.3 135.7L351.3 145.7" stroke="#e8281e" stroke-width="1.6" fill="none"/>
<path d="M363.3 150.9L373.3 150.9M368.3 145.9L368.3 155.9" stroke="#e8281e" stroke-width="1.6" fill="none"/>
<path d="M366 152.9L376 152.9M371 147.9L371 157.9" stroke="#e8281e" stroke-width="1.6" fill="none"/>
<path d="M360.6 127.1L370.6 127.1M365.6 122.1L365.6 132.1" stroke="#e8281e" stroke-width="1.6" fill="none"/>
<path d="M372.9 155.4L382.9 155.4M377.9 150.4L377.9 160.4" stroke="#e8281e" stroke-width="1.6" fill="none"/>
<path d="M361.1 147.3L371.1 147.3M366.1 142.3L366.1 152.3" stroke="#e8281e" stroke-width="1.6" fill="none"/>
<path d="M367.4 129.5L377.4 129.5M372.4 124.5L372.4 134.5" stroke="#e8281e" stroke-width="1.6" fill="none"/>
<path d="M370.5 136.6L380.5 136.6M375.5 131.6L375.5 141.6" stroke="#e8281e" stroke-width="1.6" fill="none"/>
<path d="M344 137.1L354 137.1M349 132.1L349 142.1" stroke="#e8281e" stroke-width="1.6" fill="none"/>
<path d="M370.2 134.8L380.2 134.8M375.2 129.8L375.2 139.8" stroke="#e8281e" stroke-width="1.6" fill="none"/>
<path d="M360.8 141.5L370.8 141.5M365.8 136.5L365.8 146.5" stroke="#e8281e" stroke-width="1.6" fill="none"/>
<path d="M360.2 153L370.2 153M365.2 148L365.2 158" stroke="#e8281e" stroke-width="1.6" fill="none"/>
<path d="M371.7 150.4L381.7 150.4M376.7 145.4L376.7 155.4" stroke="#e8281e" stroke-width="1.6" fill="none"/>
<path d="M366.7 129.9L376.7 129.9M371.7 124.9L371.7 134.9" stroke="#e8281e" stroke-width="1.6" fill="none"/>
<path d="M346.9 136.6L356.9 136.6M351.9 131.6L351.9 141.6" stroke="#e8281e" stroke-width="1.6" fill="none"/>
<path d="M346.8 124.9L356.8 124.9M351.8 119.9L351.8 129.9" stroke="#e8281e" stroke-width="1.6" fill="none"/>
<path d="M341.9 120.2L351.9 120.2M346.9 115.2L346.9 125.2" stroke="#e8281e" stroke-width="1.6" fill="none"/>
<path d="M327.7 124.3L337.7 124.3M332.7 119.3L332.7 129.3" stroke="#e8281e" stroke-width="1.6" fill="none"/>
<path d="M344.8 131.1L354.8 131.1M349.8 126.1L349.8 136.1" stroke="#e8281e" stroke-width="1.6" fill="none"/>
<path d="M344.9 124.7L354.9 124.7M349.9 119.7L349.9 129.7" stroke="#e8281e" stroke-width="1.6" fill="none"/>
<path d="M340.5 127.4L350.5 127.4M345.5 122.4L345.5 132.4" stroke="#e8281e" stroke-width="1.6" fill="none"/>
<path d="M339.1 121.9L349.1 121.9M344.1 116.9L344.1 126.9" stroke="#e8281e" stroke-width="1.6" fill="none"/>
<path d="M351 123.2L361 123.2M356 118.2L356 128.2" stroke="#e8281e" stroke-width="1.6" fill="none"/>
<path d="M326.5 127.3L336.5 127.3M331.5 122.3L331.5 132.3" stroke="#e8281e" stroke-width="1.6" fill="none"/>
<path d="M338.6 124.3L348.6 124.3M343.6 119.3L343.6 129.3" stroke="#e8281e" stroke-width="1.6" fill="none"/>
<path d="M370 140L366.5 146.1L359.5 146.1L356 140L359.5 133.9L366.5 133.9Z" fill="#f4849e"/>
<path d="M379 138L375.5 144.1L368.5 144.1L365 138L368.5 131.9L375.5 131.9Z" fill="#f4849e"/>
<path d="M373 146L369.5 152.1L362.5 152.1L359 146L362.5 139.9L369.5 139.9Z" fill="#f4849e"/>
<path d="M364 134L360.5 140.1L353.5 140.1L350 134L353.5 127.9L360.5 127.9Z" fill="#f4849e"/>
</g>
<polyline points="119.8,242 119.8,399" fill="none" stroke="#111" stroke-width="2.05" stroke-linejoin="miter"/>
<polyline points="119.8,337.5 175,337.5" fill="none" stroke="#111" stroke-width="2.05" stroke-linejoin="miter"/>
<polyline points="175,288.6 175,397.5" fill="none" stroke="#111" stroke-width="2.05" stroke-linejoin="miter"/>
<polyline points="175,288.6 263.2,288.6" fill="none" stroke="#111" stroke-width="2.05" stroke-linejoin="miter"/>
<polyline points="263.2,288.6 263.2,397.5" fill="none" stroke="#111" stroke-width="2.05" stroke-linejoin="miter"/>
<polyline points="263.2,288.6 332,266.5 407,240 484.3,216 583.5,406" fill="none" stroke="#111" stroke-width="2.05" stroke-linejoin="miter"/>
<polyline points="332,266.5 332,398" fill="none" stroke="#111" stroke-width="2.05" stroke-linejoin="miter"/>
<polyline points="407,240 407,399.5" fill="none" stroke="#111" stroke-width="2.05" stroke-linejoin="miter"/>
<polyline points="484.3,74 484.3,216" fill="none" stroke="#111" stroke-width="2.05" stroke-linejoin="miter"/>
<polyline points="119.8,242 171.2,186.5 218,133 271.5,71.6" fill="none" stroke="#111" stroke-width="2.05" stroke-linejoin="miter"/>
<polyline points="229,38.6 271.5,71.6 345,123 407,240" fill="none" stroke="#111" stroke-width="2.05" stroke-linejoin="miter"/>
<polyline points="171.2,186.5 231.2,233.6 263.2,288.6" fill="none" stroke="#111" stroke-width="2.05" stroke-linejoin="miter"/>
<polyline points="218,133 283.8,183.5 332,266.5" fill="none" stroke="#111" stroke-width="2.05" stroke-linejoin="miter"/>
<polyline points="175,288.6 231.2,233.6 283.8,183.5 345,123 409.5,59.5" fill="none" stroke="#111" stroke-width="2.05" stroke-linejoin="miter"/>
<polyline points="10,116.9 371,116.9" fill="none" stroke="#111" stroke-width="2.05" stroke-linejoin="miter"/>
<path d="M332 92.5L334.8 100.1L342.9 100.4L336.6 105.5L338.8 113.3L332 108.8L325.2 113.3L327.4 105.5L321.1 100.4L329.2 100.1Z" fill="#fff" stroke="#1a1a1a" stroke-width="1.1" stroke-linejoin="miter"/>
<path d="M352.6 104.6L358.4 110.4L352.6 116.2L346.8 110.4Z" fill="#fff" stroke="#111" stroke-width="1"/>
<path d="M357.9 116.2L363.7 122L357.9 127.8L352.1 122Z" fill="#fff" stroke="#111" stroke-width="1"/>
<path d="M351.6 126.7L357.4 132.5L351.6 138.3L345.8 132.5Z" fill="#fff" stroke="#111" stroke-width="1"/>
<path d="M346.3 131.9L352.1 137.7L346.3 143.5L340.5 137.7Z" fill="#fff" stroke="#111" stroke-width="1"/>
<g stroke="#111" fill="none"><path stroke-width="2.3" d="M168.8 377.2L179.2 389.8M168.8 389.8L179.2 377.2"/><path stroke-width="1.5" d="M168.5 383.5L179.5 383.5M174 377.2L174 389.8"/><path stroke-width="1.6" d="M168.5 378L168.5 389M179.5 378L179.5 389"/><path stroke-width="1.6" d="M168.5 377.2L179.5 377.2M168.5 389.8L179.5 389.8"/></g>
<g stroke="#111" fill="none"><path stroke-width="2.3" d="M249 318.5L259.4 331.1M249 331.1L259.4 318.5"/><path stroke-width="1.5" d="M248.7 324.8L259.7 324.8M254.2 318.5L254.2 331.1"/><path stroke-width="1.6" d="M248.7 319.3L248.7 330.3M259.7 319.3L259.7 330.3"/><path stroke-width="1.6" d="M248.7 318.5L259.7 318.5M248.7 331.1L259.7 331.1"/></g>
<g stroke="#111" fill="none"><path stroke-width="2.3" d="M283.4 302.2L293.8 314.8M283.4 314.8L293.8 302.2"/><path stroke-width="1.5" d="M283.1 308.5L294.1 308.5M288.6 302.2L288.6 314.8"/><path stroke-width="1.6" d="M283.1 303L283.1 314M294.1 303L294.1 314"/><path stroke-width="1.6" d="M283.1 302.2L294.1 302.2M283.1 314.8L294.1 314.8"/></g>
<g stroke="#111" fill="none"><path stroke-width="2.3" d="M264 351L274.4 363M264 363L274.4 351"/><path stroke-width="1.5" d="M260.2 357L278.2 357M269.2 351L269.2 363"/><path stroke-width="1.6" d="M260.2 351.5L260.2 362.5M278.2 351.5L278.2 362.5"/><path stroke-width="1.6" d="M263.7 351L274.7 351M263.7 363L274.7 363"/></g>
<g stroke="#111" fill="none"><path stroke-width="2.3" d="M275 258.7L285.4 273.7M275 273.7L285.4 258.7"/><path stroke-width="1.5" d="M275.7 266.2L284.7 266.2M280.2 258.7L280.2 273.7"/><path stroke-width="1.6" d="M275.7 260.7L275.7 271.7M284.7 260.7L284.7 271.7"/><path stroke-width="1.6" d="M274.7 258.7L285.7 258.7M274.7 273.7L285.7 273.7"/></g>
<g stroke="#111" fill="none"><path stroke-width="2.3" d="M503 386L513.4 398M503 398L513.4 386"/><path stroke-width="1.5" d="M499.7 392L516.7 392M508.2 386L508.2 398"/><path stroke-width="1.6" d="M499.7 386.5L499.7 397.5M516.7 386.5L516.7 397.5"/><path stroke-width="1.6" d="M502.7 386L513.7 386M502.7 398L513.7 398"/></g>
<path d="M56.5 8.5L56.5 408.6L568.7 408.6" fill="none" stroke="#111" stroke-width="2.2"/>
<path d="M50.7 408.6L56.5 408.6" stroke="#111" stroke-width="2"/>
<text x="42.6" y="414.4" font-size="14.8" text-anchor="end" font-weight="normal" fill="#231f20" stroke="#231f20" stroke-width="0.35" >0</text>
<path d="M50.7 358.6L56.5 358.6" stroke="#111" stroke-width="2"/>
<text x="42.6" y="364.4" font-size="14.8" text-anchor="end" font-weight="normal" fill="#231f20" stroke="#231f20" stroke-width="0.35" >2</text>
<path d="M50.7 308.6L56.5 308.6" stroke="#111" stroke-width="2"/>
<text x="42.6" y="314.4" font-size="14.8" text-anchor="end" font-weight="normal" fill="#231f20" stroke="#231f20" stroke-width="0.35" >4</text>
<path d="M50.7 258.6L56.5 258.6" stroke="#111" stroke-width="2"/>
<text x="42.6" y="264.4" font-size="14.8" text-anchor="end" font-weight="normal" fill="#231f20" stroke="#231f20" stroke-width="0.35" >6</text>
<path d="M50.7 208.6L56.5 208.6" stroke="#111" stroke-width="2"/>
<text x="42.6" y="214.4" font-size="14.8" text-anchor="end" font-weight="normal" fill="#231f20" stroke="#231f20" stroke-width="0.35" >8</text>
<path d="M50.7 158.6L56.5 158.6" stroke="#111" stroke-width="2"/>
<text x="42.6" y="164.4" font-size="14.8" text-anchor="end" font-weight="normal" fill="#231f20" stroke="#231f20" stroke-width="0.35" >10</text>
<path d="M50.7 108.6L56.5 108.6" stroke="#111" stroke-width="2"/>
<text x="42.6" y="114.4" font-size="14.8" text-anchor="end" font-weight="normal" fill="#231f20" stroke="#231f20" stroke-width="0.35" >12</text>
<path d="M50.7 58.6L56.5 58.6" stroke="#111" stroke-width="2"/>
<text x="42.6" y="64.4" font-size="14.8" text-anchor="end" font-weight="normal" fill="#231f20" stroke="#231f20" stroke-width="0.35" >14</text>
<path d="M50.7 8.6L56.5 8.6" stroke="#111" stroke-width="2"/>
<text x="42.6" y="14.4" font-size="14.8" text-anchor="end" font-weight="normal" fill="#231f20" stroke="#231f20" stroke-width="0.35" >16</text>
<path d="M56.3 408.6L56.3 414.4" stroke="#111" stroke-width="2"/>
<text x="56.3" y="432.6" font-size="14.8" text-anchor="middle" font-weight="normal" fill="#231f20" stroke="#231f20" stroke-width="0.35" >36</text>
<path d="M120.2 408.6L120.2 414.4" stroke="#111" stroke-width="2"/>
<text x="120.2" y="432.6" font-size="14.8" text-anchor="middle" font-weight="normal" fill="#231f20" stroke="#231f20" stroke-width="0.35" >41</text>
<path d="M184.2 408.6L184.2 414.4" stroke="#111" stroke-width="2"/>
<text x="184.2" y="432.6" font-size="14.8" text-anchor="middle" font-weight="normal" fill="#231f20" stroke="#231f20" stroke-width="0.35" >46</text>
<path d="M248.1 408.6L248.1 414.4" stroke="#111" stroke-width="2"/>
<text x="248.1" y="432.6" font-size="14.8" text-anchor="middle" font-weight="normal" fill="#231f20" stroke="#231f20" stroke-width="0.35" >51</text>
<path d="M312.1 408.6L312.1 414.4" stroke="#111" stroke-width="2"/>
<text x="312.1" y="432.6" font-size="14.8" text-anchor="middle" font-weight="normal" fill="#231f20" stroke="#231f20" stroke-width="0.35" >56</text>
<path d="M376.1 408.6L376.1 414.4" stroke="#111" stroke-width="2"/>
<text x="376.1" y="432.6" font-size="14.8" text-anchor="middle" font-weight="normal" fill="#231f20" stroke="#231f20" stroke-width="0.35" >61</text>
<path d="M440 408.6L440 414.4" stroke="#111" stroke-width="2"/>
<text x="440" y="432.6" font-size="14.8" text-anchor="middle" font-weight="normal" fill="#231f20" stroke="#231f20" stroke-width="0.35" >66</text>
<path d="M503.9 408.6L503.9 414.4" stroke="#111" stroke-width="2"/>
<text x="503.9" y="432.6" font-size="14.8" text-anchor="middle" font-weight="normal" fill="#231f20" stroke="#231f20" stroke-width="0.35" >71</text>
<path d="M567.9 408.6L567.9 414.4" stroke="#111" stroke-width="2"/>
<text x="567.9" y="432.6" font-size="14.8" text-anchor="middle" font-weight="normal" fill="#231f20" stroke="#231f20" stroke-width="0.35" >76</text>
<text x="312.7" y="450.4" font-size="15" font-weight="bold" fill="#231f20" text-anchor="middle">SiO<tspan font-size="9.5" dy="3">2</tspan><tspan dy="-3"> (wt%)</tspan></text>
<text transform="translate(20.3 210.2) rotate(-90)" font-size="15" font-weight="bold" fill="#231f20" text-anchor="middle">Na<tspan font-size="9.5" dy="3">2</tspan><tspan dy="-3">O+K</tspan><tspan font-size="9.5" dy="3">2</tspan><tspan dy="-3">O (wt%)</tspan></text>
<text x="69.3" y="24.4" font-size="22.8" text-anchor="start" font-weight="normal" fill="#231f20" stroke="#231f20" stroke-width="0.15" >Icod Deposit</text>
<text x="521" y="397.4" font-size="15.2" text-anchor="start" font-weight="normal" fill="#333" stroke="#333" stroke-width="0.35" >SRM</text>
<path d="M510.3 9.1L513.4 17.4L522.2 17.7L515.3 23.2L517.6 31.7L510.3 26.9L503 31.7L505.3 23.2L498.4 17.7L507.2 17.4Z" fill="#fff" stroke="#1a1a1a" stroke-width="1.1" stroke-linejoin="miter"/>
<text x="524.9" y="29.6" font-size="15" text-anchor="start" font-weight="normal" fill="#231f20" stroke="#231f20" stroke-width="0.35" >Bryan et al. 2002</text>
<path d="M517.7 38.1L524 44.4L517.7 50.7L511.4 44.4Z" fill="#fff" stroke="#222" stroke-width="1.1"/>
<text x="524.4" y="50.7" font-size="15" text-anchor="start" font-weight="normal" fill="#231f20" stroke="#231f20" stroke-width="0.35" >Wolf et al. 2000</text>
<path d="M524 64.7L520.6 70.6L513.8 70.6L510.4 64.7L513.8 58.8L520.6 58.8Z" fill="#f4849e"/>
<text x="525.7" y="70.2" font-size="15" text-anchor="start" font-weight="normal" fill="#231f20" stroke="#231f20" stroke-width="0.35" >This study</text>
<path d="M517.6 82.3L522 86.7L517.6 91.1L513.2 86.7Z" fill="#3f6eb5"/>
<rect x="512.7" y="107.9" width="9.8" height="9.8" fill="#b03a35"/>
<path d="M517.8 134.2L522.5 143.8L513 143.8Z" fill="#8fc63f"/>
<path d="M513.3 160.8L522.7 170.2M513.3 170.2L522.7 160.8" stroke="#4aa8de" stroke-width="2.1" fill="none"/>
<path d="M512.8 191.1L523.2 191.1" stroke="#111" stroke-width="2.5"/>
<circle cx="518" cy="218" r="5" fill="#f7df19"/>
<path d="M513.1 244.3L522.9 244.3M518 239.4L518 249.2" stroke="#e8281e" stroke-width="2.3" fill="none"/>
<text x="525.3" y="92.2" font-size="15" text-anchor="start" font-weight="normal" fill="#231f20" stroke="#231f20" stroke-width="0.35" >SBU1</text>
<text x="525.3" y="118.3" font-size="15" text-anchor="start" font-weight="normal" fill="#231f20" stroke="#231f20" stroke-width="0.35" >SBU2</text>
<text x="525.3" y="144.5" font-size="15" text-anchor="start" font-weight="normal" fill="#231f20" stroke="#231f20" stroke-width="0.35" >SBU3</text>
<text x="525.3" y="171" font-size="15" text-anchor="start" font-weight="normal" fill="#231f20" stroke="#231f20" stroke-width="0.35" >SBU4</text>
<text x="525.3" y="196.6" font-size="15" text-anchor="start" font-weight="normal" fill="#231f20" stroke="#231f20" stroke-width="0.35" >SBU5</text>
<text x="525.3" y="223.5" font-size="15" text-anchor="start" font-weight="normal" fill="#231f20" stroke="#231f20" stroke-width="0.35" >SBU6</text>
<text x="525.3" y="249.8" font-size="15" text-anchor="start" font-weight="normal" fill="#231f20" stroke="#231f20" stroke-width="0.35" >SBU7</text>
<path d="M603.9 11.1H657.1V76.2H603.9" fill="none" stroke="#231f20" stroke-width="1.4"/>
<text transform="translate(651.9 74.1) rotate(-90)" font-size="15.1" fill="#231f20" stroke="#231f20" stroke-width="0.35">El Abrigo</text>
<g>
<circle cx="212.6" cy="486" r="5.3" fill="#f5dc1a"/>
<circle cx="231.2" cy="507" r="5.3" fill="#f5dc1a"/>
<circle cx="238" cy="520" r="5.3" fill="#f5dc1a"/>
<circle cx="231.2" cy="546" r="5.3" fill="#f5dc1a"/>
<circle cx="296.7" cy="518" r="5.3" fill="#f5dc1a"/>
<circle cx="265" cy="533.5" r="5.3" fill="#f5dc1a"/>
<circle cx="240.5" cy="564.7" r="5.3" fill="#f5dc1a"/>
<circle cx="250" cy="567" r="5.3" fill="#f5dc1a"/>
<circle cx="245.6" cy="577.6" r="5.3" fill="#f5dc1a"/>
<circle cx="179" cy="580.6" r="5.3" fill="#f5dc1a"/>
<circle cx="195" cy="588.7" r="5.3" fill="#f5dc1a"/>
<circle cx="265" cy="605.5" r="5.3" fill="#f5dc1a"/>
<circle cx="289.8" cy="577.6" r="5.3" fill="#f5dc1a"/>
<circle cx="314" cy="490.4" r="5.3" fill="#f5dc1a"/>
<circle cx="324" cy="490.4" r="5.3" fill="#f5dc1a"/>
<circle cx="321" cy="512" r="5.3" fill="#f5dc1a"/>
<circle cx="325.4" cy="512.6" r="5.3" fill="#f5dc1a"/>
<circle cx="298" cy="518" r="5.3" fill="#f5dc1a"/>
<circle cx="342.5" cy="524.6" r="5.3" fill="#f5dc1a"/>
<circle cx="328.4" cy="530" r="5.3" fill="#f5dc1a"/>
<circle cx="316.4" cy="540.5" r="5.3" fill="#f5dc1a"/>
<circle cx="324.5" cy="545" r="5.3" fill="#f5dc1a"/>
<circle cx="341" cy="552.6" r="5.3" fill="#f5dc1a"/>
<circle cx="307.4" cy="558.6" r="5.3" fill="#f5dc1a"/>
<circle cx="296" cy="573.6" r="5.3" fill="#f5dc1a"/>
<circle cx="318.5" cy="608.7" r="5.3" fill="#f5dc1a"/>
<circle cx="151" cy="732.5" r="5.3" fill="#f5dc1a"/>
<circle cx="193.6" cy="736.7" r="5.3" fill="#f5dc1a"/>
<circle cx="208.6" cy="744" r="5.3" fill="#f5dc1a"/>
<circle cx="102" cy="773.6" r="5.3" fill="#f5dc1a"/>
<circle cx="105" cy="775.5" r="5.3" fill="#f5dc1a"/>
<circle cx="98.4" cy="809" r="5.3" fill="#f5dc1a"/>
<circle cx="102" cy="809.5" r="5.3" fill="#f5dc1a"/>
<circle cx="118.6" cy="819.6" r="5.3" fill="#f5dc1a"/>
<circle cx="135" cy="814.5" r="5.3" fill="#f5dc1a"/>
<circle cx="193.6" cy="753.5" r="5.3" fill="#f5dc1a"/>
<circle cx="222" cy="757.4" r="5.3" fill="#f5dc1a"/>
<circle cx="221" cy="773" r="5.3" fill="#f5dc1a"/>
<circle cx="214.6" cy="786" r="5.3" fill="#f5dc1a"/>
<circle cx="265" cy="605.4" r="5.3" fill="#f5dc1a"/>
<circle cx="319" cy="611.4" r="5.3" fill="#f5dc1a"/>
<circle cx="263.4" cy="821.7" r="5.3" fill="#f5dc1a"/>
<circle cx="270" cy="846.6" r="5.3" fill="#f5dc1a"/>
<circle cx="268.5" cy="851" r="5.3" fill="#f5dc1a"/>
<path d="M227.6 560.6L232.6 570.6L222.6 570.6Z" fill="#3fa3dc"/>
<path d="M221 575.6L226 585.6L216 585.6Z" fill="#3fa3dc"/>
<path d="M263 583.7L268 593.7L258 593.7Z" fill="#3fa3dc"/>
<path d="M254.6 598L259.6 608L249.6 608Z" fill="#3fa3dc"/>
<path d="M233 603.5L238 613.5L228 613.5Z" fill="#3fa3dc"/>
<path d="M281 565L286 575L276 575Z" fill="#3fa3dc"/>
<path d="M290.7 556L295.7 566L285.7 566Z" fill="#3fa3dc"/>
<path d="M296.7 572L301.7 582L291.7 582Z" fill="#3fa3dc"/>
<path d="M289.8 611.6L294.8 621.6L284.8 621.6Z" fill="#3fa3dc"/>
<path d="M335 504L340 514L330 514Z" fill="#3fa3dc"/>
<path d="M354 500.4L359 510.4L349 510.4Z" fill="#3fa3dc"/>
<path d="M363 510L368 520L358 520Z" fill="#3fa3dc"/>
<path d="M347 529.5L352 539.5L342 539.5Z" fill="#3fa3dc"/>
<path d="M347.6 534L352.6 544L342.6 544Z" fill="#3fa3dc"/>
<path d="M363.6 526.5L368.6 536.5L358.6 536.5Z" fill="#3fa3dc"/>
<path d="M351.5 553.6L356.5 563.6L346.5 563.6Z" fill="#3fa3dc"/>
<path d="M357.6 553.6L362.6 563.6L352.6 563.6Z" fill="#3fa3dc"/>
<path d="M293 554.5L298 564.5L288 564.5Z" fill="#3fa3dc"/>
<path d="M306.5 562.6L311.5 572.6L301.5 572.6Z" fill="#3fa3dc"/>
<path d="M234 650.6L239 660.6L229 660.6Z" fill="#3fa3dc"/>
<path d="M243.8 643.4L248.8 653.4L238.8 653.4Z" fill="#3fa3dc"/>
<path d="M246.8 650.6L251.8 660.6L241.8 660.6Z" fill="#3fa3dc"/>
<path d="M258 644L263 654L253 654Z" fill="#3fa3dc"/>
<path d="M258 677L263 687L253 687Z" fill="#3fa3dc"/>
<path d="M254.5 599.5L259.5 609.5L249.5 609.5Z" fill="#3fa3dc"/>
<path d="M290 613L295 623L285 623Z" fill="#3fa3dc"/>
<path d="M263.5 626.5L268.5 636.5L258.5 636.5Z" fill="#3fa3dc"/>
<path d="M258.4 644.5L263.4 654.5L253.4 654.5Z" fill="#3fa3dc"/>
<path d="M259 676.7L264 686.7L254 686.7Z" fill="#3fa3dc"/>
<path d="M331.7 671.6L336.7 681.6L326.7 681.6Z" fill="#3fa3dc"/>
<path d="M325.6 766L330.6 776L320.6 776Z" fill="#3fa3dc"/>
<path d="M232 605L237 615L227 615Z" fill="#3fa3dc"/>
<path d="M297.3 553.7L302.3 558.7L297.3 563.7L292.3 558.7Z" fill="#e7211b"/>
<path d="M334 526.5L339 531.5L334 536.5L329 531.5Z" fill="#e7211b"/>
<path d="M327.5 532.6L332.5 537.6L327.5 542.6L322.5 537.6Z" fill="#e7211b"/>
<path d="M308 538.6L313 543.6L308 548.6L303 543.6Z" fill="#e7211b"/>
<path d="M297.5 553.6L302.5 558.6L297.5 563.6L292.5 558.6Z" fill="#e7211b"/>
<path d="M326 556.6L331 561.6L326 566.6L321 561.6Z" fill="#e7211b"/>
<path d="M346.5 547.6L351.5 552.6L346.5 557.6L341.5 552.6Z" fill="#e7211b"/>
<path d="M345.6 568.6L350.6 573.6L345.6 578.6L340.6 573.6Z" fill="#e7211b"/>
<path d="M353 572.5L358 577.5L353 582.5L348 577.5Z" fill="#e7211b"/>
<path d="M343.5 574.6L348.5 579.6L343.5 584.6L338.5 579.6Z" fill="#e7211b"/>
<path d="M339.5 578.5L344.5 583.5L339.5 588.5L334.5 583.5Z" fill="#e7211b"/>
<path d="M346.7 611.5L351.7 616.5L346.7 621.5L341.7 616.5Z" fill="#e7211b"/>
<path d="M350.6 615.4L355.6 620.4L350.6 625.4L345.6 620.4Z" fill="#e7211b"/>
<path d="M348.5 620L353.5 625L348.5 630L343.5 625Z" fill="#e7211b"/>
<path d="M355 635L360 640L355 645L350 640Z" fill="#e7211b"/>
<path d="M361 650.6L366 655.6L361 660.6L356 655.6Z" fill="#e7211b"/>
<path d="M174 783L179 788L174 793L169 788Z" fill="#e7211b"/>
<path d="M145.6 793.5L150.6 798.5L145.6 803.5L140.6 798.5Z" fill="#e7211b"/>
<path d="M164 796L169 801L164 806L159 801Z" fill="#e7211b"/>
<path d="M184.6 790.5L189.6 795.5L184.6 800.5L179.6 795.5Z" fill="#e7211b"/>
<path d="M239.6 773.4L244.6 778.4L239.6 783.4L234.6 778.4Z" fill="#e7211b"/>
<path d="M230.6 800.5L235.6 805.5L230.6 810.5L225.6 805.5Z" fill="#e7211b"/>
<path d="M241.5 774L246.5 779L241.5 784L236.5 779Z" fill="#e7211b"/>
<circle cx="376" cy="483.5" r="5.8" fill="#33269a"/>
<circle cx="405.6" cy="483.5" r="5.8" fill="#33269a"/>
<circle cx="365" cy="492.5" r="5.8" fill="#33269a"/>
<circle cx="377" cy="495.5" r="5.8" fill="#33269a"/>
<circle cx="387" cy="491" r="5.8" fill="#33269a"/>
<circle cx="403.5" cy="491.6" r="5.8" fill="#33269a"/>
<circle cx="397" cy="498.5" r="5.8" fill="#33269a"/>
<circle cx="405" cy="500" r="5.8" fill="#33269a"/>
<circle cx="411.6" cy="498.5" r="5.8" fill="#33269a"/>
<circle cx="380" cy="500" r="5.8" fill="#33269a"/>
<circle cx="416.7" cy="506" r="5.8" fill="#33269a"/>
<circle cx="448" cy="516" r="5.8" fill="#33269a"/>
<circle cx="389" cy="516.5" r="5.8" fill="#33269a"/>
<circle cx="400.5" cy="529" r="5.8" fill="#33269a"/>
<circle cx="419" cy="530" r="5.8" fill="#33269a"/>
<circle cx="443" cy="550" r="5.8" fill="#33269a"/>
<circle cx="396.6" cy="545" r="5.8" fill="#33269a"/>
<circle cx="426.6" cy="560" r="5.8" fill="#33269a"/>
<circle cx="405.6" cy="563" r="5.8" fill="#33269a"/>
<circle cx="429.6" cy="575" r="5.8" fill="#33269a"/>
<circle cx="444.6" cy="574.5" r="5.8" fill="#33269a"/>
<circle cx="458.8" cy="584" r="5.8" fill="#33269a"/>
<circle cx="471.7" cy="581" r="5.8" fill="#33269a"/>
<circle cx="401.7" cy="591" r="5.8" fill="#33269a"/>
<circle cx="419" cy="591" r="5.8" fill="#33269a"/>
<circle cx="446.7" cy="608.7" r="5.8" fill="#33269a"/>
<circle cx="446.7" cy="610.5" r="5.8" fill="#33269a"/>
<circle cx="443" cy="627.6" r="5.8" fill="#33269a"/>
<circle cx="472" cy="581.7" r="5.8" fill="#33269a"/>
<circle cx="446" cy="574.5" r="5.8" fill="#33269a"/>
<circle cx="392" cy="508" r="5.8" fill="#33269a"/>
<circle cx="385" cy="522" r="5.8" fill="#33269a"/>
<circle cx="395" cy="555" r="5.8" fill="#33269a"/>
<circle cx="412" cy="570" r="5.8" fill="#33269a"/>
<circle cx="436" cy="568" r="5.8" fill="#33269a"/>
<circle cx="383" cy="488" r="5.8" fill="#33269a"/>
<rect x="236.8" y="519.8" width="10.5" height="10.5" fill="#66201a"/>
<rect x="257.8" y="538.4" width="10.5" height="10.5" fill="#66201a"/>
<rect x="250.8" y="547.5" width="10.5" height="10.5" fill="#66201a"/>
<rect x="374.8" y="505.2" width="10.5" height="10.5" fill="#66201a"/>
<rect x="371.8" y="517.2" width="10.5" height="10.5" fill="#66201a"/>
<rect x="375.8" y="510.8" width="10.5" height="10.5" fill="#66201a"/>
<rect x="358.4" y="535.2" width="10.5" height="10.5" fill="#66201a"/>
<rect x="365.8" y="535.2" width="10.5" height="10.5" fill="#66201a"/>
<rect x="374.8" y="533.8" width="10.5" height="10.5" fill="#66201a"/>
<rect x="371.8" y="544.2" width="10.5" height="10.5" fill="#66201a"/>
<rect x="365.8" y="551.8" width="10.5" height="10.5" fill="#66201a"/>
<rect x="383.8" y="548.8" width="10.5" height="10.5" fill="#66201a"/>
<rect x="382.4" y="556.4" width="10.5" height="10.5" fill="#66201a"/>
<rect x="373.4" y="557.8" width="10.5" height="10.5" fill="#66201a"/>
<rect x="409.4" y="542.8" width="10.5" height="10.5" fill="#66201a"/>
<rect x="413.8" y="550.4" width="10.5" height="10.5" fill="#66201a"/>
<rect x="406.4" y="551.8" width="10.5" height="10.5" fill="#66201a"/>
<rect x="416.8" y="559.4" width="10.5" height="10.5" fill="#66201a"/>
<rect x="365.8" y="574.4" width="10.5" height="10.5" fill="#66201a"/>
<rect x="373.4" y="580.4" width="10.5" height="10.5" fill="#66201a"/>
<rect x="385.4" y="581.2" width="10.5" height="10.5" fill="#66201a"/>
<rect x="380.8" y="587.8" width="10.5" height="10.5" fill="#66201a"/>
<rect x="381.4" y="592.4" width="10.5" height="10.5" fill="#66201a"/>
<rect x="406.4" y="578.2" width="10.5" height="10.5" fill="#66201a"/>
<rect x="358.8" y="590.2" width="10.5" height="10.5" fill="#66201a"/>
<rect x="334.2" y="563.2" width="10.5" height="10.5" fill="#66201a"/>
<rect x="318.4" y="580.4" width="10.5" height="10.5" fill="#66201a"/>
<rect x="303.4" y="589.4" width="10.5" height="10.5" fill="#66201a"/>
<rect x="415.4" y="603.5" width="10.5" height="10.5" fill="#66201a"/>
<rect x="425.8" y="603.8" width="10.5" height="10.5" fill="#66201a"/>
<rect x="184.4" y="677.8" width="10.5" height="10.5" fill="#66201a"/>
<rect x="179.3" y="727.2" width="10.5" height="10.5" fill="#66201a"/>
<rect x="175.4" y="734.5" width="10.5" height="10.5" fill="#66201a"/>
<rect x="154.8" y="757.2" width="10.5" height="10.5" fill="#66201a"/>
<rect x="134.3" y="790.8" width="10.5" height="10.5" fill="#66201a"/>
<rect x="176.3" y="792.4" width="10.5" height="10.5" fill="#66201a"/>
<rect x="171.2" y="801.4" width="10.5" height="10.5" fill="#66201a"/>
<rect x="175.8" y="736.2" width="10.5" height="10.5" fill="#66201a"/>
<rect x="218.3" y="792.4" width="10.5" height="10.5" fill="#66201a"/>
<rect x="236.8" y="796.2" width="10.5" height="10.5" fill="#66201a"/>
<rect x="241.6" y="822.5" width="10.5" height="10.5" fill="#66201a"/>
<rect x="248.4" y="826.4" width="10.5" height="10.5" fill="#66201a"/>
<rect x="186.2" y="851.8" width="10.5" height="10.5" fill="#66201a"/>
<rect x="274.8" y="623.2" width="10.5" height="10.5" fill="#66201a"/>
<rect x="283.1" y="623.2" width="10.5" height="10.5" fill="#66201a"/>
<rect x="304.2" y="610.4" width="10.5" height="10.5" fill="#66201a"/>
<rect x="415.4" y="606.8" width="10.5" height="10.5" fill="#66201a"/>
<rect x="425.8" y="608.2" width="10.5" height="10.5" fill="#66201a"/>
<rect x="418.8" y="614.2" width="10.5" height="10.5" fill="#66201a"/>
<rect x="366.8" y="525.8" width="10.5" height="10.5" fill="#66201a"/>
<rect x="377.8" y="524.8" width="10.5" height="10.5" fill="#66201a"/>
<rect x="360.8" y="542.8" width="10.5" height="10.5" fill="#66201a"/>
<rect x="379.8" y="540.8" width="10.5" height="10.5" fill="#66201a"/>
<rect x="367.8" y="560.8" width="10.5" height="10.5" fill="#66201a"/>
<rect x="386.8" y="564.8" width="10.5" height="10.5" fill="#66201a"/>
<rect x="373.8" y="567.8" width="10.5" height="10.5" fill="#66201a"/>
<rect x="400.8" y="545.8" width="10.5" height="10.5" fill="#66201a"/>
<rect x="410.8" y="562.8" width="10.5" height="10.5" fill="#66201a"/>
<rect x="363.8" y="508.8" width="10.5" height="10.5" fill="#66201a"/>
<rect x="372.8" y="499.8" width="10.5" height="10.5" fill="#66201a"/>
<rect x="379.8" y="521.8" width="10.5" height="10.5" fill="#66201a"/>
<rect x="368.8" y="530.8" width="10.5" height="10.5" fill="#66201a"/>
<path d="M241.5 504L252.5 504M247 498.5L247 509.5" stroke="#111" stroke-width="1.8" fill="none"/>
<path d="M269.5 505.5L280.5 505.5M275 500L275 511" stroke="#111" stroke-width="1.8" fill="none"/>
<path d="M259 525.6L270 525.6M264.5 520.1L264.5 531.1" stroke="#111" stroke-width="1.8" fill="none"/>
<path d="M262 529.5L273 529.5M267.5 524L267.5 535" stroke="#111" stroke-width="1.8" fill="none"/>
<path d="M252.1 567L263.1 567M257.6 561.5L257.6 572.5" stroke="#111" stroke-width="1.8" fill="none"/>
<path d="M266.2 569L277.2 569M271.7 563.5L271.7 574.5" stroke="#111" stroke-width="1.8" fill="none"/>
<path d="M351.1 550L362.1 550M356.6 544.5L356.6 555.5" stroke="#111" stroke-width="1.8" fill="none"/>
<path d="M388.1 546.6L399.1 546.6M393.6 541.1L393.6 552.1" stroke="#111" stroke-width="1.8" fill="none"/>
<path d="M397.5 542L408.5 542M403 536.5L403 547.5" stroke="#111" stroke-width="1.8" fill="none"/>
<path d="M376.1 564.6L387.1 564.6M381.6 559.1L381.6 570.1" stroke="#111" stroke-width="1.8" fill="none"/>
<path d="M402.2 565.5L413.2 565.5M407.7 560L407.7 571" stroke="#111" stroke-width="1.8" fill="none"/>
<path d="M406.1 575L417.1 575M411.6 569.5L411.6 580.5" stroke="#111" stroke-width="1.8" fill="none"/>
<path d="M415.1 581L426.1 581M420.6 575.5L420.6 586.5" stroke="#111" stroke-width="1.8" fill="none"/>
<path d="M406.1 591.6L417.1 591.6M411.6 586.1L411.6 597.1" stroke="#111" stroke-width="1.8" fill="none"/>
<path d="M416.5 552.6L427.5 552.6M422 547.1L422 558.1" stroke="#111" stroke-width="1.8" fill="none"/>
<path d="M423.2 565.5L434.2 565.5M428.7 560L428.7 571" stroke="#111" stroke-width="1.8" fill="none"/>
<path d="M303.1 587L314.1 587M308.6 581.5L308.6 592.5" stroke="#111" stroke-width="1.8" fill="none"/>
<path d="M308.5 608.7L319.5 608.7M314 603.2L314 614.2" stroke="#111" stroke-width="1.8" fill="none"/>
<path d="M210.5 704.6L221.5 704.6M216 699.1L216 710.1" stroke="#111" stroke-width="1.8" fill="none"/>
<path d="M200.5 712.7L211.5 712.7M206 707.2L206 718.2" stroke="#111" stroke-width="1.8" fill="none"/>
<path d="M214.5 712L225.5 712M220 706.5L220 717.5" stroke="#111" stroke-width="1.8" fill="none"/>
<path d="M214.5 724L225.5 724M220 718.5L220 729.5" stroke="#111" stroke-width="1.8" fill="none"/>
<path d="M202.2 736L213.2 736M207.7 730.5L207.7 741.5" stroke="#111" stroke-width="1.8" fill="none"/>
<path d="M215.5 745L226.5 745M221 739.5L221 750.5" stroke="#111" stroke-width="1.8" fill="none"/>
<path d="M308.5 609.6L319.5 609.6M314 604.1L314 615.1" stroke="#111" stroke-width="1.8" fill="none"/>
<path d="M300.1 625.5L311.1 625.5M305.6 620L305.6 631" stroke="#111" stroke-width="1.8" fill="none"/>
<path d="M293.5 640L304.5 640M299 634.5L299 645.5" stroke="#111" stroke-width="1.8" fill="none"/>
<path d="M314.2 651.7L325.2 651.7M319.7 646.2L319.7 657.2" stroke="#111" stroke-width="1.8" fill="none"/>
<path d="M212 707L223 707M217.5 701.5L217.5 712.5" stroke="#111" stroke-width="1.8" fill="none"/>
</g>
<polyline points="124,710 124,867.6" fill="none" stroke="#111" stroke-width="2.05" stroke-linejoin="miter"/>
<polyline points="124,805.2 179.5,805.2" fill="none" stroke="#111" stroke-width="2.05" stroke-linejoin="miter"/>
<polyline points="179.5,756.5 179.5,865.5" fill="none" stroke="#111" stroke-width="2.05" stroke-linejoin="miter"/>
<polyline points="179.5,756.5 267.6,756.5" fill="none" stroke="#111" stroke-width="2.05" stroke-linejoin="miter"/>
<polyline points="267.6,756.5 267.6,865.5" fill="none" stroke="#111" stroke-width="2.05" stroke-linejoin="miter"/>
<polyline points="267.6,756.5 335.6,733.6 411.8,709.6 488,684 587.7,873.6" fill="none" stroke="#111" stroke-width="2.05" stroke-linejoin="miter"/>
<polyline points="335.6,733.6 335.6,869" fill="none" stroke="#111" stroke-width="2.05" stroke-linejoin="miter"/>
<polyline points="411.8,709.6 411.8,869" fill="none" stroke="#111" stroke-width="2.05" stroke-linejoin="miter"/>
<polyline points="488,542 488,684" fill="none" stroke="#111" stroke-width="2.05" stroke-linejoin="miter"/>
<polyline points="124,710 174,654.4 221.6,601.6 275.7,540" fill="none" stroke="#111" stroke-width="2.05" stroke-linejoin="miter"/>
<polyline points="236.6,509 275.7,540 344,591.6 411.8,709.6" fill="none" stroke="#111" stroke-width="2.05" stroke-linejoin="miter"/>
<polyline points="174,654.4 234,701.6 267.6,756.5" fill="none" stroke="#111" stroke-width="2.05" stroke-linejoin="miter"/>
<polyline points="221.6,601.6 289,650.5 335.6,733.6" fill="none" stroke="#111" stroke-width="2.05" stroke-linejoin="miter"/>
<polyline points="179.5,756.5 234,701.6 289,650.5 344,591.6 413,528.5" fill="none" stroke="#111" stroke-width="2.05" stroke-linejoin="miter"/>
<path d="M363.1 476.4L367.8 483.8L376.5 482.4L370.9 489.1L375 497L366.8 493.7L360.6 500L361.2 491.2L353.3 487.3L361.8 485.1Z" fill="none" stroke="#1a1a1a" stroke-width="1.1" stroke-linejoin="miter"/>
<path d="M428.3 520.6L430.2 529.2L438.9 530.8L431.3 535.3L432.5 544L425.9 538.2L417.9 542L421.4 533.9L415.4 527.5L424.1 528.4Z" fill="none" stroke="#1a1a1a" stroke-width="1.1" stroke-linejoin="miter"/>
<path d="M395 522L398.1 530.3L406.9 530.6L400 536.1L402.3 544.6L395 539.8L387.7 544.6L390 536.1L383.1 530.6L391.9 530.3Z" fill="none" stroke="#1a1a1a" stroke-width="1.1" stroke-linejoin="miter"/>
<path d="M437.2 543.5L438.1 552.3L446.5 554.9L438.4 558.5L438.5 567.3L432.6 560.7L424.3 563.5L428.8 555.9L423.5 548.8L432.1 550.7Z" fill="none" stroke="#1a1a1a" stroke-width="1.1" stroke-linejoin="miter"/>
<path d="M402.9 553.5L406.7 561.5L415.5 561.1L409.1 567.2L412.2 575.4L404.5 571.2L397.6 576.7L399.2 568.1L391.8 563.2L400.6 562Z" fill="none" stroke="#1a1a1a" stroke-width="1.1" stroke-linejoin="miter"/>
<path d="M445.2 565.7L446.8 574.4L455.4 576.3L447.6 580.5L448.5 589.2L442.1 583.2L434 586.7L437.8 578.7L432 572.1L440.7 573.3Z" fill="none" stroke="#1a1a1a" stroke-width="1.1" stroke-linejoin="miter"/>
<g stroke="#111" fill="none"><path stroke-width="2.3" d="M174.3 844.7L184.7 857.3M174.3 857.3L184.7 844.7"/><path stroke-width="1.5" d="M174 851L185 851M179.5 844.7L179.5 857.3"/><path stroke-width="1.6" d="M174 845.5L174 856.5M185 845.5L185 856.5"/><path stroke-width="1.6" d="M174 844.7L185 844.7M174 857.3L185 857.3"/></g>
<g stroke="#111" fill="none"><path stroke-width="2.3" d="M254.8 786.2L265.2 798.8M254.8 798.8L265.2 786.2"/><path stroke-width="1.5" d="M254.5 792.5L265.5 792.5M260 786.2L260 798.8"/><path stroke-width="1.6" d="M254.5 787L254.5 798M265.5 787L265.5 798"/><path stroke-width="1.6" d="M254.5 786.2L265.5 786.2M254.5 798.8L265.5 798.8"/></g>
<g stroke="#111" fill="none"><path stroke-width="2.3" d="M288.8 769.7L299.2 782.3M288.8 782.3L299.2 769.7"/><path stroke-width="1.5" d="M288.5 776L299.5 776M294 769.7L294 782.3"/><path stroke-width="1.6" d="M288.5 770.5L288.5 781.5M299.5 770.5L299.5 781.5"/><path stroke-width="1.6" d="M288.5 769.7L299.5 769.7M288.5 782.3L299.5 782.3"/></g>
<g stroke="#111" fill="none"><path stroke-width="2.3" d="M270.2 819.6L280.6 831.6M270.2 831.6L280.6 819.6"/><path stroke-width="1.5" d="M266.4 825.6L284.4 825.6M275.4 819.6L275.4 831.6"/><path stroke-width="1.6" d="M266.4 820.1L266.4 831.1M284.4 820.1L284.4 831.1"/><path stroke-width="1.6" d="M269.9 819.6L280.9 819.6M269.9 831.6L280.9 831.6"/></g>
<g stroke="#111" fill="none"><path stroke-width="2.3" d="M280.2 726.1L290.6 741.1M280.2 741.1L290.6 726.1"/><path stroke-width="1.5" d="M280.9 733.6L289.9 733.6M285.4 726.1L285.4 741.1"/><path stroke-width="1.6" d="M280.9 728.1L280.9 739.1M289.9 728.1L289.9 739.1"/><path stroke-width="1.6" d="M279.9 726.1L290.9 726.1M279.9 741.1L290.9 741.1"/></g>
<g stroke="#111" fill="none"><path stroke-width="2.3" d="M504.8 856.8L515.2 868.8M504.8 868.8L515.2 856.8"/><path stroke-width="1.5" d="M501.5 862.8L518.5 862.8M510 856.8L510 868.8"/><path stroke-width="1.6" d="M501.5 857.3L501.5 868.3M518.5 857.3L518.5 868.3"/><path stroke-width="1.6" d="M504.5 856.8L515.5 856.8M504.5 868.8L515.5 868.8"/></g>
<path d="M57.8 480.5L57.8 879.2L577.3 879.2" fill="none" stroke="#111" stroke-width="2.2"/>
<path d="M52 879.2L57.8 879.2" stroke="#111" stroke-width="2"/>
<text x="43.6" y="885" font-size="14.8" text-anchor="end" font-weight="normal" fill="#231f20" stroke="#231f20" stroke-width="0.35" >0</text>
<path d="M52 829.4L57.8 829.4" stroke="#111" stroke-width="2"/>
<text x="43.6" y="835.2" font-size="14.8" text-anchor="end" font-weight="normal" fill="#231f20" stroke="#231f20" stroke-width="0.35" >2</text>
<path d="M52 779.6L57.8 779.6" stroke="#111" stroke-width="2"/>
<text x="43.6" y="785.4" font-size="14.8" text-anchor="end" font-weight="normal" fill="#231f20" stroke="#231f20" stroke-width="0.35" >4</text>
<path d="M52 729.9L57.8 729.9" stroke="#111" stroke-width="2"/>
<text x="43.6" y="735.7" font-size="14.8" text-anchor="end" font-weight="normal" fill="#231f20" stroke="#231f20" stroke-width="0.35" >6</text>
<path d="M52 680.1L57.8 680.1" stroke="#111" stroke-width="2"/>
<text x="43.6" y="685.9" font-size="14.8" text-anchor="end" font-weight="normal" fill="#231f20" stroke="#231f20" stroke-width="0.35" >8</text>
<path d="M52 630.3L57.8 630.3" stroke="#111" stroke-width="2"/>
<text x="43.6" y="636.1" font-size="14.8" text-anchor="end" font-weight="normal" fill="#231f20" stroke="#231f20" stroke-width="0.35" >10</text>
<path d="M52 580.5L57.8 580.5" stroke="#111" stroke-width="2"/>
<text x="43.6" y="586.3" font-size="14.8" text-anchor="end" font-weight="normal" fill="#231f20" stroke="#231f20" stroke-width="0.35" >12</text>
<path d="M52 530.7L57.8 530.7" stroke="#111" stroke-width="2"/>
<text x="43.6" y="536.5" font-size="14.8" text-anchor="end" font-weight="normal" fill="#231f20" stroke="#231f20" stroke-width="0.35" >14</text>
<path d="M52 481L57.8 481" stroke="#111" stroke-width="2"/>
<text x="43.6" y="486.8" font-size="14.8" text-anchor="end" font-weight="normal" fill="#231f20" stroke="#231f20" stroke-width="0.35" >16</text>
<path d="M57.5 879.2L57.5 885" stroke="#111" stroke-width="2"/>
<text x="57.5" y="904.8" font-size="14.8" text-anchor="middle" font-weight="normal" fill="#231f20" stroke="#231f20" stroke-width="0.35" >36</text>
<path d="M122.4 879.2L122.4 885" stroke="#111" stroke-width="2"/>
<text x="122.4" y="904.8" font-size="14.8" text-anchor="middle" font-weight="normal" fill="#231f20" stroke="#231f20" stroke-width="0.35" >41</text>
<path d="M187.2 879.2L187.2 885" stroke="#111" stroke-width="2"/>
<text x="187.2" y="904.8" font-size="14.8" text-anchor="middle" font-weight="normal" fill="#231f20" stroke="#231f20" stroke-width="0.35" >46</text>
<path d="M252.1 879.2L252.1 885" stroke="#111" stroke-width="2"/>
<text x="252.1" y="904.8" font-size="14.8" text-anchor="middle" font-weight="normal" fill="#231f20" stroke="#231f20" stroke-width="0.35" >51</text>
<path d="M316.9 879.2L316.9 885" stroke="#111" stroke-width="2"/>
<text x="316.9" y="904.8" font-size="14.8" text-anchor="middle" font-weight="normal" fill="#231f20" stroke="#231f20" stroke-width="0.35" >56</text>
<path d="M381.8 879.2L381.8 885" stroke="#111" stroke-width="2"/>
<text x="381.8" y="904.8" font-size="14.8" text-anchor="middle" font-weight="normal" fill="#231f20" stroke="#231f20" stroke-width="0.35" >61</text>
<path d="M446.6 879.2L446.6 885" stroke="#111" stroke-width="2"/>
<text x="446.6" y="904.8" font-size="14.8" text-anchor="middle" font-weight="normal" fill="#231f20" stroke="#231f20" stroke-width="0.35" >66</text>
<path d="M511.5 879.2L511.5 885" stroke="#111" stroke-width="2"/>
<text x="511.5" y="904.8" font-size="14.8" text-anchor="middle" font-weight="normal" fill="#231f20" stroke="#231f20" stroke-width="0.35" >71</text>
<path d="M576.3 879.2L576.3 885" stroke="#111" stroke-width="2"/>
<text x="576.3" y="904.8" font-size="14.8" text-anchor="middle" font-weight="normal" fill="#231f20" stroke="#231f20" stroke-width="0.35" >76</text>
<text x="320" y="921.5" font-size="15" font-weight="bold" fill="#231f20" text-anchor="middle">SiO<tspan font-size="9.5" dy="3">2</tspan><tspan dy="-3"> (wt%)</tspan></text>
<text transform="translate(21.5 682) rotate(-90)" font-size="15" font-weight="bold" fill="#231f20" text-anchor="middle">Na<tspan font-size="9.5" dy="3">2</tspan><tspan dy="-3">O+K</tspan><tspan font-size="9.5" dy="3">2</tspan><tspan dy="-3">O (wt%)</tspan></text>
<text x="75.3" y="499.4" font-size="22.6" text-anchor="start" font-weight="normal" fill="#231f20" stroke="#231f20" stroke-width="0.15" >Orotava</text>
<text x="75.3" y="527.3" font-size="22.6" text-anchor="start" font-weight="normal" fill="#231f20" stroke="#231f20" stroke-width="0.15" >Deposit</text>
<text x="524" y="867.5" font-size="15.2" text-anchor="start" font-weight="normal" fill="#333" stroke="#333" stroke-width="0.35" >SRM</text>
<path d="M511 496L516.5 507L505.5 507Z" fill="#fff" stroke="#222" stroke-width="1.1"/>
<text x="520" y="506.6" font-size="14.9" text-anchor="start" font-weight="normal" fill="#231f20" stroke="#231f20" stroke-width="0.35" >Bryan et al. 2006</text>
<rect x="505.8" y="515.2" width="10.5" height="10.5" fill="#fff" stroke="#555" stroke-width="1.1"/>
<text x="520" y="527.6" font-size="14.9" text-anchor="start" font-weight="normal" fill="#231f20" stroke="#231f20" stroke-width="0.35" >Palacz et al. 1989</text>
<path d="M503 527L508.5 534.7L517.8 532.6L512.2 540.3L517 548.5L508 545.5L501.7 552.6L501.7 543.1L493 539.3L502.1 536.4Z" fill="#fff" stroke="#1a1a1a" stroke-width="1.1" stroke-linejoin="miter"/>
<text x="520" y="546.6" font-size="14.9" text-anchor="start" font-weight="normal" fill="#231f20" stroke="#231f20" stroke-width="0.35" >Bryan et al. 2002</text>
<circle cx="511" cy="565.5" r="5.5" fill="#33269a"/>
<text x="521.5" y="569.2" font-size="14.8" text-anchor="start" font-weight="normal" fill="#231f20" stroke="#231f20" stroke-width="0.35" >This study</text>
<circle cx="509.7" cy="584.4" r="5" fill="#f5dc1a"/>
<path d="M509.7 605.8L514.5 615.2L504.9 615.2Z" fill="#3fa3dc"/>
<path d="M509.7 631.9L514.5 636.7L509.7 641.5L504.9 636.7Z" fill="#e7211b"/>
<path d="M504.2 663L514.2 663M509.2 658L509.2 668" stroke="#111" stroke-width="2.3" fill="none"/>
<rect x="504.8" y="685.1" width="9.8" height="9.8" fill="#66201a"/>
<text x="517.5" y="590.8" font-size="14.8" text-anchor="start" font-weight="normal" fill="#231f20" stroke="#231f20" stroke-width="0.35" >SBU1</text>
<text x="517.5" y="616.9" font-size="14.8" text-anchor="start" font-weight="normal" fill="#231f20" stroke="#231f20" stroke-width="0.35" >SBU2</text>
<text x="517.5" y="643.1" font-size="14.8" text-anchor="start" font-weight="normal" fill="#231f20" stroke="#231f20" stroke-width="0.35" >SBU3</text>
<text x="517.5" y="669.4" font-size="14.8" text-anchor="start" font-weight="normal" fill="#231f20" stroke="#231f20" stroke-width="0.35" >SBU4</text>
<text x="517.5" y="696.4" font-size="14.8" text-anchor="start" font-weight="normal" fill="#231f20" stroke="#231f20" stroke-width="0.35" >SBU5</text>
<path d="M607 490.4H661.2V575H607" fill="none" stroke="#231f20" stroke-width="1.4"/>
<text transform="translate(655.8 568.8) rotate(-90)" font-size="15" fill="#231f20" stroke="#231f20" stroke-width="0.35">Granadilla</text>
<g>
<path d="M198.9 1196.3L203.9 1201.3L198.9 1206.3L193.9 1201.3Z" fill="#8b8685"/>
<path d="M178.4 1212L183.4 1217L178.4 1222L173.4 1217Z" fill="#8b8685"/>
<path d="M185.6 1215.5L190.6 1220.5L185.6 1225.5L180.6 1220.5Z" fill="#8b8685"/>
<path d="M219.3 1215.5L224.3 1220.5L219.3 1225.5L214.3 1220.5Z" fill="#8b8685"/>
<path d="M222 1124.5L227 1129.5L222 1134.5L217 1129.5Z" fill="#8b8685"/>
<path d="M224.5 1126.5L229.5 1131.5L224.5 1136.5L219.5 1131.5Z" fill="#8b8685"/>
<path d="M237 1129.6L242 1134.6L237 1139.6L232 1134.6Z" fill="#8b8685"/>
<path d="M211 1135L216 1140L211 1145L206 1140Z" fill="#8b8685"/>
<path d="M232.7 1144.6L237.7 1149.6L232.7 1154.6L227.7 1149.6Z" fill="#8b8685"/>
<path d="M163 1144.6L168 1149.6L163 1154.6L158 1149.6Z" fill="#8b8685"/>
<path d="M185.5 1162.6L190.5 1167.6L185.5 1172.6L180.5 1167.6Z" fill="#8b8685"/>
<path d="M189 1171L194 1176L189 1181L184 1176Z" fill="#8b8685"/>
<path d="M174 1188L179 1193L174 1198L169 1193Z" fill="#8b8685"/>
<path d="M178.6 1195.6L183.6 1200.6L178.6 1205.6L173.6 1200.6Z" fill="#8b8685"/>
<path d="M187.6 1200L192.6 1205L187.6 1210L182.6 1205Z" fill="#8b8685"/>
<path d="M123 1203.7L128 1208.7L123 1213.7L118 1208.7Z" fill="#8b8685"/>
<path d="M100.5 1203.7L105.5 1208.7L100.5 1213.7L95.5 1208.7Z" fill="#8b8685"/>
<path d="M101 1206.4L106 1211.4L101 1216.4L96 1211.4Z" fill="#8b8685"/>
<path d="M92.4 1210.6L97.4 1215.6L92.4 1220.6L87.4 1215.6Z" fill="#8b8685"/>
<path d="M103 1233.4L108 1238.4L103 1243.4L98 1238.4Z" fill="#8b8685"/>
<path d="M123 1208.5L128 1213.5L123 1218.5L118 1213.5Z" fill="#8b8685"/>
<path d="M120 1216L125 1221L120 1226L115 1221Z" fill="#8b8685"/>
<path d="M129 1217.5L134 1222.5L129 1227.5L124 1222.5Z" fill="#8b8685"/>
<path d="M121.6 1228L126.6 1233L121.6 1238L116.6 1233Z" fill="#8b8685"/>
<path d="M118.6 1235.5L123.6 1240.5L118.6 1245.5L113.6 1240.5Z" fill="#8b8685"/>
<path d="M124.6 1238.5L129.6 1243.5L124.6 1248.5L119.6 1243.5Z" fill="#8b8685"/>
<path d="M132 1232.5L137 1237.5L132 1242.5L127 1237.5Z" fill="#8b8685"/>
<path d="M136.6 1235.5L141.6 1240.5L136.6 1245.5L131.6 1240.5Z" fill="#8b8685"/>
<path d="M133.6 1243L138.6 1248L133.6 1253L128.6 1248Z" fill="#8b8685"/>
<path d="M138 1249L143 1254L138 1259L133 1254Z" fill="#8b8685"/>
<path d="M150 1237L155 1242L150 1247L145 1242Z" fill="#8b8685"/>
<path d="M151.6 1243L156.6 1248L151.6 1253L146.6 1248Z" fill="#8b8685"/>
<path d="M120 1244.5L125 1249.5L120 1254.5L115 1249.5Z" fill="#8b8685"/>
<path d="M114 1249L119 1254L114 1259L109 1254Z" fill="#8b8685"/>
<path d="M106.5 1252.6L111.5 1257.6L106.5 1262.6L101.5 1257.6Z" fill="#8b8685"/>
<path d="M180 1229.5L185 1234.5L180 1239.5L175 1234.5Z" fill="#8b8685"/>
<path d="M181.6 1251L186.6 1256L181.6 1261L176.6 1256Z" fill="#8b8685"/>
<path d="M213 1222L218 1227L213 1232L208 1227Z" fill="#8b8685"/>
<path d="M219 1217.5L224 1222.5L219 1227.5L214 1222.5Z" fill="#8b8685"/>
<path d="M210 1221.4L215 1226.4L210 1231.4L205 1226.4Z" fill="#8b8685"/>
<path d="M225.7 1232.5L230.7 1237.5L225.7 1242.5L220.7 1237.5Z" fill="#8b8685"/>
<path d="M217 1270.6L222 1275.6L217 1280.6L212 1275.6Z" fill="#8b8685"/>
<path d="M178.6 1196.5L183.6 1201.5L178.6 1206.5L173.6 1201.5Z" fill="#8b8685"/>
<path d="M186 1199.5L191 1204.5L186 1209.5L181 1204.5Z" fill="#8b8685"/>
<path d="M198 1196.5L203 1201.5L198 1206.5L193 1201.5Z" fill="#8b8685"/>
<path d="M184.6 1214.5L189.6 1219.5L184.6 1224.5L179.6 1219.5Z" fill="#8b8685"/>
<path d="M285.4 1161.6L290.4 1166.6L285.4 1171.6L280.4 1166.6Z" fill="#8b8685"/>
<path d="M287.4 1207L292.4 1212L287.4 1217L282.4 1212Z" fill="#8b8685"/>
<path d="M126 1212L131 1217L126 1222L121 1217Z" fill="#8b8685"/>
<path d="M124 1222L129 1227L124 1232L119 1227Z" fill="#8b8685"/>
<path d="M128 1231L133 1236L128 1241L123 1236Z" fill="#8b8685"/>
<path d="M134 1238L139 1243L134 1248L129 1243Z" fill="#8b8685"/>
<path d="M130 1245L135 1250L130 1255L125 1250Z" fill="#8b8685"/>
<path d="M127 1235L132 1240L127 1245L122 1240Z" fill="#8b8685"/>
<path d="M122 1233L127 1238L122 1243L117 1238Z" fill="#8b8685"/>
<path d="M137 1242L142 1247L137 1252L132 1247Z" fill="#8b8685"/>
<path d="M148 1233L153 1238L148 1243L143 1238Z" fill="#8b8685"/>
<path d="M117 1241L122 1246L117 1251L112 1246Z" fill="#8b8685"/>
<path d="M111 1251L116 1256L111 1261L106 1256Z" fill="#8b8685"/>
<path d="M125 1203L130 1208L125 1213L120 1208Z" fill="#8b8685"/>
<path d="M119 1211L124 1216L119 1221L114 1216Z" fill="#8b8685"/>
<circle cx="227.3" cy="1013.6" r="5.3" fill="#fdb913"/>
<circle cx="210" cy="1055.6" r="5.3" fill="#fdb913"/>
<circle cx="234" cy="1055.6" r="5.3" fill="#fdb913"/>
<circle cx="399" cy="975.5" r="5.3" fill="#fdb913"/>
<circle cx="391" cy="984.5" r="5.3" fill="#fdb913"/>
<circle cx="405.5" cy="992" r="5.3" fill="#fdb913"/>
<circle cx="389" cy="993.5" r="5.3" fill="#fdb913"/>
<circle cx="414.5" cy="1016" r="5.3" fill="#fdb913"/>
<circle cx="423" cy="1024.5" r="5.3" fill="#fdb913"/>
<circle cx="419.6" cy="1028" r="5.3" fill="#fdb913"/>
<circle cx="388" cy="1020.6" r="5.3" fill="#fdb913"/>
<circle cx="385" cy="1026.6" r="5.3" fill="#fdb913"/>
<circle cx="423" cy="1041" r="5.3" fill="#fdb913"/>
<circle cx="397" cy="1047.6" r="5.3" fill="#fdb913"/>
<circle cx="403" cy="1052" r="5.3" fill="#fdb913"/>
<circle cx="407.6" cy="1055.7" r="5.3" fill="#fdb913"/>
<circle cx="418" cy="1059" r="5.3" fill="#fdb913"/>
<circle cx="395" cy="1065.6" r="5.3" fill="#fdb913"/>
<circle cx="296.5" cy="1028.7" r="5.3" fill="#fdb913"/>
<circle cx="288" cy="1042" r="5.3" fill="#fdb913"/>
<circle cx="340.7" cy="1038.6" r="5.3" fill="#fdb913"/>
<circle cx="343" cy="1061" r="5.3" fill="#fdb913"/>
<circle cx="362.6" cy="1011.6" r="5.3" fill="#fdb913"/>
<circle cx="131" cy="1143.6" r="5.3" fill="#fdb913"/>
<circle cx="147" cy="1191" r="5.3" fill="#fdb913"/>
<circle cx="253.7" cy="1131.6" r="5.3" fill="#fdb913"/>
<circle cx="205" cy="1142" r="5.3" fill="#fdb913"/>
<circle cx="192" cy="1149.6" r="5.3" fill="#fdb913"/>
<circle cx="184.6" cy="1157" r="5.3" fill="#fdb913"/>
<circle cx="232.7" cy="1159" r="5.3" fill="#fdb913"/>
<circle cx="243" cy="1158.6" r="5.3" fill="#fdb913"/>
<circle cx="218" cy="1167.6" r="5.3" fill="#fdb913"/>
<circle cx="210" cy="1172" r="5.3" fill="#fdb913"/>
<circle cx="223.7" cy="1184.7" r="5.3" fill="#fdb913"/>
<circle cx="239.3" cy="1191" r="5.3" fill="#fdb913"/>
<circle cx="240.8" cy="1218.6" r="5.3" fill="#fdb913"/>
<circle cx="277.6" cy="1098" r="5.3" fill="#fdb913"/>
<circle cx="292" cy="1106.5" r="5.3" fill="#fdb913"/>
<circle cx="306" cy="1107" r="5.3" fill="#fdb913"/>
<circle cx="326.6" cy="1094.5" r="5.3" fill="#fdb913"/>
<circle cx="340.7" cy="1094.5" r="5.3" fill="#fdb913"/>
<circle cx="355.7" cy="1097" r="5.3" fill="#fdb913"/>
<circle cx="364" cy="1081.6" r="5.3" fill="#fdb913"/>
<circle cx="367.7" cy="1087" r="5.3" fill="#fdb913"/>
<circle cx="313" cy="1121" r="5.3" fill="#fdb913"/>
<circle cx="304.6" cy="1132" r="5.3" fill="#fdb913"/>
<circle cx="308.6" cy="1145.6" r="5.3" fill="#fdb913"/>
<circle cx="254.5" cy="1132" r="5.3" fill="#fdb913"/>
<circle cx="395" cy="1066" r="5.3" fill="#fdb913"/>
<circle cx="418" cy="1096" r="5.3" fill="#fdb913"/>
<circle cx="423.6" cy="1098" r="5.3" fill="#fdb913"/>
<circle cx="418" cy="1061.5" r="5.3" fill="#fdb913"/>
<circle cx="409" cy="1008" r="5.3" fill="#fdb913"/>
<circle cx="412" cy="1033" r="5.3" fill="#fdb913"/>
<rect x="299.8" y="946.8" width="10.5" height="10.5" fill="#1f3460"/>
<rect x="303.8" y="949.8" width="10.5" height="10.5" fill="#1f3460"/>
<rect x="294.8" y="968.1" width="10.5" height="10.5" fill="#1f3460"/>
<rect x="307.8" y="978.4" width="10.5" height="10.5" fill="#1f3460"/>
<rect x="313.2" y="998.8" width="10.5" height="10.5" fill="#1f3460"/>
<rect x="363.4" y="996.5" width="10.5" height="10.5" fill="#1f3460"/>
<rect x="370.8" y="996.5" width="10.5" height="10.5" fill="#1f3460"/>
<rect x="360.4" y="1010.8" width="10.5" height="10.5" fill="#1f3460"/>
<rect x="364.8" y="1015.4" width="10.5" height="10.5" fill="#1f3460"/>
<rect x="361.8" y="1025.8" width="10.5" height="10.5" fill="#1f3460"/>
<rect x="370.8" y="1030.3" width="10.5" height="10.5" fill="#1f3460"/>
<rect x="360.4" y="1034.8" width="10.5" height="10.5" fill="#1f3460"/>
<rect x="345.4" y="1039.3" width="10.5" height="10.5" fill="#1f3460"/>
<rect x="358.8" y="1049.2" width="10.5" height="10.5" fill="#1f3460"/>
<rect x="347.8" y="1060.3" width="10.5" height="10.5" fill="#1f3460"/>
<rect x="376.8" y="1043.8" width="10.5" height="10.5" fill="#1f3460"/>
<rect x="383.8" y="1051.3" width="10.5" height="10.5" fill="#1f3460"/>
<rect x="402.8" y="1061.8" width="10.5" height="10.5" fill="#1f3460"/>
<rect x="364.2" y="1067.2" width="10.5" height="10.5" fill="#1f3460"/>
<rect x="268.1" y="1077.2" width="10.5" height="10.5" fill="#1f3460"/>
<rect x="277.8" y="1083.8" width="10.5" height="10.5" fill="#1f3460"/>
<rect x="289.1" y="1077.2" width="10.5" height="10.5" fill="#1f3460"/>
<rect x="348.4" y="1060.2" width="10.5" height="10.5" fill="#1f3460"/>
<rect x="363.8" y="1068.2" width="10.5" height="10.5" fill="#1f3460"/>
<rect x="402.8" y="1061.3" width="10.5" height="10.5" fill="#1f3460"/>
<rect x="355.8" y="1052.8" width="10.5" height="10.5" fill="#1f3460"/>
<rect x="384.8" y="1052.8" width="10.5" height="10.5" fill="#1f3460"/>
<rect x="366.8" y="1002.8" width="10.5" height="10.5" fill="#1f3460"/>
<rect x="374.8" y="1006.8" width="10.5" height="10.5" fill="#1f3460"/>
<rect x="368.8" y="1018.8" width="10.5" height="10.5" fill="#1f3460"/>
<rect x="375.8" y="1022.8" width="10.5" height="10.5" fill="#1f3460"/>
<rect x="366.8" y="1036.8" width="10.5" height="10.5" fill="#1f3460"/>
<rect x="374.8" y="1037.8" width="10.5" height="10.5" fill="#1f3460"/>
<rect x="362.8" y="1041.8" width="10.5" height="10.5" fill="#1f3460"/>
<rect x="356.8" y="1057.8" width="10.5" height="10.5" fill="#1f3460"/>
<rect x="366.8" y="990.8" width="10.5" height="10.5" fill="#1f3460"/>
<rect x="359.8" y="997.8" width="10.5" height="10.5" fill="#1f3460"/>
<rect x="372.8" y="1012.8" width="10.5" height="10.5" fill="#1f3460"/>
<path d="M223.4 980.2L234.2 991M223.4 991L234.2 980.2" stroke="#e8301c" stroke-width="1.7" fill="none"/>
<path d="M219.2 991.1L230 1001.9M219.2 1001.9L230 991.1" stroke="#e8301c" stroke-width="1.7" fill="none"/>
<path d="M219.2 1017.6L230 1028.4M219.2 1028.4L230 1017.6" stroke="#e8301c" stroke-width="1.7" fill="none"/>
<path d="M185.6 1039.6L196.4 1050.4M185.6 1050.4L196.4 1039.6" stroke="#e8301c" stroke-width="1.7" fill="none"/>
<path d="M187.3 1050.6L198.1 1061.4M187.3 1061.4L198.1 1050.6" stroke="#e8301c" stroke-width="1.7" fill="none"/>
<path d="M207.2 1040.3L218 1051.1M207.2 1051.1L218 1040.3" stroke="#e8301c" stroke-width="1.7" fill="none"/>
<path d="M343.6 953L354.4 963.8M343.6 963.8L354.4 953" stroke="#e8301c" stroke-width="1.7" fill="none"/>
<path d="M349.6 959L360.4 969.8M349.6 969.8L360.4 959" stroke="#e8301c" stroke-width="1.7" fill="none"/>
<path d="M363.2 960.6L374 971.4M363.2 971.4L374 960.6" stroke="#e8301c" stroke-width="1.7" fill="none"/>
<path d="M349.6 971L360.4 981.8M349.6 981.8L360.4 971" stroke="#e8301c" stroke-width="1.7" fill="none"/>
<path d="M360.2 971.6L371 982.4M360.2 982.4L371 971.6" stroke="#e8301c" stroke-width="1.7" fill="none"/>
<path d="M374.3 974.6L385.1 985.4M374.3 985.4L385.1 974.6" stroke="#e8301c" stroke-width="1.7" fill="none"/>
<path d="M387.2 966.6L398 977.4M387.2 977.4L398 966.6" stroke="#e8301c" stroke-width="1.7" fill="none"/>
<path d="M392.6 971.6L403.4 982.4M392.6 982.4L403.4 971.6" stroke="#e8301c" stroke-width="1.7" fill="none"/>
<path d="M339.2 994.1L350 1004.9M339.2 1004.9L350 994.1" stroke="#e8301c" stroke-width="1.7" fill="none"/>
<path d="M139.6 1100.6L150.4 1111.4M139.6 1111.4L150.4 1100.6" stroke="#e8301c" stroke-width="1.7" fill="none"/>
<path d="M201.1 1085.6L211.9 1096.4M201.1 1096.4L211.9 1085.6" stroke="#e8301c" stroke-width="1.7" fill="none"/>
<path d="M170.2 1127.6L181 1138.4M170.2 1138.4L181 1127.6" stroke="#e8301c" stroke-width="1.7" fill="none"/>
<path d="M174.6 1135.2L185.4 1146M174.6 1146L185.4 1135.2" stroke="#e8301c" stroke-width="1.7" fill="none"/>
<path d="M170.2 1139.6L181 1150.4M170.2 1150.4L181 1139.6" stroke="#e8301c" stroke-width="1.7" fill="none"/>
<path d="M167.2 1149.6L178 1160.4M167.2 1160.4L178 1149.6" stroke="#e8301c" stroke-width="1.7" fill="none"/>
<path d="M174.6 1156.2L185.4 1167M174.6 1167L185.4 1156.2" stroke="#e8301c" stroke-width="1.7" fill="none"/>
<path d="M198.1 1177.2L208.9 1188M198.1 1188L208.9 1177.2" stroke="#e8301c" stroke-width="1.7" fill="none"/>
<path d="M201.6 1180.2L212.4 1191M201.6 1191L212.4 1180.2" stroke="#e8301c" stroke-width="1.7" fill="none"/>
<path d="M195.6 1183.2L206.4 1194M195.6 1194L206.4 1183.2" stroke="#e8301c" stroke-width="1.7" fill="none"/>
<path d="M204.6 1183.2L215.4 1194M204.6 1194L215.4 1183.2" stroke="#e8301c" stroke-width="1.7" fill="none"/>
<path d="M209.2 1186.2L220 1197M209.2 1197L220 1186.2" stroke="#e8301c" stroke-width="1.7" fill="none"/>
<path d="M198.6 1190.6L209.4 1201.4M198.6 1201.4L209.4 1190.6" stroke="#e8301c" stroke-width="1.7" fill="none"/>
<path d="M179.2 1184.1L190 1194.9M179.2 1194.9L190 1184.1" stroke="#e8301c" stroke-width="1.7" fill="none"/>
<path d="M193.6 1174.6L204.4 1185.4M193.6 1185.4L204.4 1174.6" stroke="#e8301c" stroke-width="1.7" fill="none"/>
<path d="M202.6 1174.6L213.4 1185.4M202.6 1185.4L213.4 1174.6" stroke="#e8301c" stroke-width="1.7" fill="none"/>
<path d="M206.6 1190.6L217.4 1201.4M206.6 1201.4L217.4 1190.6" stroke="#e8301c" stroke-width="1.7" fill="none"/>
<path d="M247.6 1172.6L258.4 1183.4M247.6 1183.4L258.4 1172.6" stroke="#e8301c" stroke-width="1.7" fill="none"/>
<path d="M258.1 1192.6L268.9 1203.4M258.1 1203.4L268.9 1192.6" stroke="#e8301c" stroke-width="1.7" fill="none"/>
<path d="M260.1 1199.1L270.9 1209.9M260.1 1209.9L270.9 1199.1" stroke="#e8301c" stroke-width="1.7" fill="none"/>
<path d="M177.6 1131.6L188.4 1142.4M177.6 1142.4L188.4 1131.6" stroke="#e8301c" stroke-width="1.7" fill="none"/>
<path d="M190.6 1180.6L201.4 1191.4M190.6 1191.4L201.4 1180.6" stroke="#e8301c" stroke-width="1.7" fill="none"/>
<path d="M387 986.4L392.2 991.6M387 991.6L392.2 986.4" stroke="#222" stroke-width="0.9" fill="none"/>
<path d="M389.4 989.4L394.6 994.6M389.4 994.6L394.6 989.4" stroke="#222" stroke-width="0.9" fill="none"/>
<path d="M391.4 992.4L396.6 997.6M391.4 997.6L396.6 992.4" stroke="#222" stroke-width="0.9" fill="none"/>
<path d="M393.4 995.4L398.6 1000.6M393.4 1000.6L398.6 995.4" stroke="#222" stroke-width="0.9" fill="none"/>
<path d="M395.4 998.4L400.6 1003.6M395.4 1003.6L400.6 998.4" stroke="#222" stroke-width="0.9" fill="none"/>
<path d="M411.9 1030L417.1 1035.2M411.9 1035.2L417.1 1030" stroke="#222" stroke-width="0.9" fill="none"/>
<path d="M408.4 1024.4L413.6 1029.6M408.4 1029.6L413.6 1024.4" stroke="#222" stroke-width="0.9" fill="none"/>
<path d="M405.4 1019.4L410.6 1024.6M405.4 1024.6L410.6 1019.4" stroke="#222" stroke-width="0.9" fill="none"/>
<path d="M394.9 1004.6L400.1 1009.8M394.9 1009.8L400.1 1004.6" stroke="#222" stroke-width="0.9" fill="none"/>
<path d="M404.5 1018.8L409.7 1024M404.5 1024L409.7 1018.8" stroke="#222" stroke-width="0.9" fill="none"/>
<path d="M407.8 1016.1L413 1021.3M407.8 1021.3L413 1016.1" stroke="#222" stroke-width="0.9" fill="none"/>
<path d="M399.5 1003.8L404.7 1009M399.5 1009L404.7 1003.8" stroke="#222" stroke-width="0.9" fill="none"/>
<path d="M399.1 1003.7L404.3 1008.9M399.1 1008.9L404.3 1003.7" stroke="#222" stroke-width="0.9" fill="none"/>
<path d="M393.6 1004.4L398.8 1009.6M393.6 1009.6L398.8 1004.4" stroke="#222" stroke-width="0.9" fill="none"/>
<path d="M398.9 1000.2L404.1 1005.4M398.9 1005.4L404.1 1000.2" stroke="#222" stroke-width="0.9" fill="none"/>
<path d="M403.2 1006.1L408.4 1011.3M403.2 1011.3L408.4 1006.1" stroke="#222" stroke-width="0.9" fill="none"/>
<path d="M394.7 1006.6L399.9 1011.8M394.7 1011.8L399.9 1006.6" stroke="#222" stroke-width="0.9" fill="none"/>
<path d="M403.1 1018.3L408.3 1023.5M403.1 1023.5L408.3 1018.3" stroke="#222" stroke-width="0.9" fill="none"/>
<path d="M398.7 1012.6L403.9 1017.8M398.7 1017.8L403.9 1012.6" stroke="#222" stroke-width="0.9" fill="none"/>
<path d="M406.1 1018.3L411.3 1023.5M406.1 1023.5L411.3 1018.3" stroke="#222" stroke-width="0.9" fill="none"/>
<path d="M404.1 1012.8L409.3 1018M404.1 1018L409.3 1012.8" stroke="#222" stroke-width="0.9" fill="none"/>
<path d="M402.7 1014.2L407.9 1019.4M402.7 1019.4L407.9 1014.2" stroke="#222" stroke-width="0.9" fill="none"/>
<path d="M401.3 1000L406.5 1005.2M401.3 1005.2L406.5 1000" stroke="#222" stroke-width="0.9" fill="none"/>
<path d="M401.4 1005.9L406.6 1011.1M401.4 1011.1L406.6 1005.9" stroke="#222" stroke-width="0.9" fill="none"/>
<path d="M395.5 1003.7L400.7 1008.9M395.5 1008.9L400.7 1003.7" stroke="#222" stroke-width="0.9" fill="none"/>
<path d="M404.3 1010.2L409.5 1015.4M404.3 1015.4L409.5 1010.2" stroke="#222" stroke-width="0.9" fill="none"/>
<path d="M402.1 1008.3L407.3 1013.5M402.1 1013.5L407.3 1008.3" stroke="#222" stroke-width="0.9" fill="none"/>
<path d="M398.7 997.6L403.9 1002.8M398.7 1002.8L403.9 997.6" stroke="#222" stroke-width="0.9" fill="none"/>
<path d="M402.8 1005.9L408 1011.1M402.8 1011.1L408 1005.9" stroke="#222" stroke-width="0.9" fill="none"/>
<path d="M402.8 1004.4L408 1009.6M402.8 1009.6L408 1004.4" stroke="#222" stroke-width="0.9" fill="none"/>
<path d="M401.7 1001.5L406.9 1006.7M401.7 1006.7L406.9 1001.5" stroke="#222" stroke-width="0.9" fill="none"/>
<path d="M398.8 999.9L404 1005.1M398.8 1005.1L404 999.9" stroke="#222" stroke-width="0.9" fill="none"/>
<path d="M398 1011L403.2 1016.2M398 1016.2L403.2 1011" stroke="#222" stroke-width="0.9" fill="none"/>
<path d="M404.7 1013L409.9 1018.2M404.7 1018.2L409.9 1013" stroke="#222" stroke-width="0.9" fill="none"/>
<path d="M399 1005.4L404.2 1010.6M399 1010.6L404.2 1005.4" stroke="#222" stroke-width="0.9" fill="none"/>
<path d="M400.1 1003.6L405.3 1008.8M400.1 1008.8L405.3 1003.6" stroke="#222" stroke-width="0.9" fill="none"/>
<path d="M396.2 995.7L401.4 1000.9M396.2 1000.9L401.4 995.7" stroke="#222" stroke-width="0.9" fill="none"/>
<path d="M399.3 1008.1L404.5 1013.3M399.3 1013.3L404.5 1008.1" stroke="#222" stroke-width="0.9" fill="none"/>
<path d="M407.9 1014.8L413.1 1020M407.9 1020L413.1 1014.8" stroke="#222" stroke-width="0.9" fill="none"/>
<path d="M399.4 1000.6L404.6 1005.8M399.4 1005.8L404.6 1000.6" stroke="#222" stroke-width="0.9" fill="none"/>
<path d="M399.5 1004.7L404.7 1009.9M399.5 1009.9L404.7 1004.7" stroke="#222" stroke-width="0.9" fill="none"/>
<path d="M406.2 1016.9L411.4 1022.1M406.2 1022.1L411.4 1016.9" stroke="#222" stroke-width="0.9" fill="none"/>
<path d="M395.2 1006.9L400.4 1012.1M395.2 1012.1L400.4 1006.9" stroke="#222" stroke-width="0.9" fill="none"/>
<path d="M401.9 1017.1L407.1 1022.3M401.9 1022.3L407.1 1017.1" stroke="#222" stroke-width="0.9" fill="none"/>
<path d="M399.1 1008.9L404.3 1014.1M399.1 1014.1L404.3 1008.9" stroke="#222" stroke-width="0.9" fill="none"/>
<path d="M404.7 1019.2L409.9 1024.4M404.7 1024.4L409.9 1019.2" stroke="#222" stroke-width="0.9" fill="none"/>
<path d="M400.2 1012.3L405.4 1017.5M400.2 1017.5L405.4 1012.3" stroke="#222" stroke-width="0.9" fill="none"/>
<path d="M399.4 1006.6L404.6 1011.8M399.4 1011.8L404.6 1006.6" stroke="#222" stroke-width="0.9" fill="none"/>
</g>
<polyline points="118.5,1176 118.5,1334" fill="none" stroke="#111" stroke-width="2.05" stroke-linejoin="miter"/>
<polyline points="118.5,1272 173.5,1272" fill="none" stroke="#111" stroke-width="2.05" stroke-linejoin="miter"/>
<polyline points="173.5,1222.5 173.5,1332" fill="none" stroke="#111" stroke-width="2.05" stroke-linejoin="miter"/>
<polyline points="173.5,1222.5 261,1222.5" fill="none" stroke="#111" stroke-width="2.05" stroke-linejoin="miter"/>
<polyline points="261,1222.5 261,1332" fill="none" stroke="#111" stroke-width="2.05" stroke-linejoin="miter"/>
<polyline points="261,1222.5 329.5,1200 405.8,1174 483,1151.6 582.2,1340" fill="none" stroke="#111" stroke-width="2.05" stroke-linejoin="miter"/>
<polyline points="329.5,1200 329.5,1337" fill="none" stroke="#111" stroke-width="2.05" stroke-linejoin="miter"/>
<polyline points="405.8,1174 405.8,1337" fill="none" stroke="#111" stroke-width="2.05" stroke-linejoin="miter"/>
<polyline points="483,1057 483,1151.6" fill="none" stroke="#111" stroke-width="2.05" stroke-linejoin="miter"/>
<polyline points="118.5,1176 169,1121 216,1067.6 270.4,1005.6" fill="none" stroke="#111" stroke-width="2.05" stroke-linejoin="miter"/>
<polyline points="227.6,974.5 270.4,1005.6 341,1059.6 405.8,1174" fill="none" stroke="#111" stroke-width="2.05" stroke-linejoin="miter"/>
<polyline points="169,1121 229,1169 261,1222.5" fill="none" stroke="#111" stroke-width="2.05" stroke-linejoin="miter"/>
<polyline points="216,1067.6 282.4,1117 329.5,1200" fill="none" stroke="#111" stroke-width="2.05" stroke-linejoin="miter"/>
<polyline points="173.5,1222.5 229,1169 282.4,1117 341,1059.6 407.7,995" fill="none" stroke="#111" stroke-width="2.05" stroke-linejoin="miter"/>
<polyline points="313,1135 313,1349" fill="none" stroke="#111" stroke-width="2.05" stroke-linejoin="miter"/>
<polyline points="379,1135 379,1349" fill="none" stroke="#111" stroke-width="2.05" stroke-linejoin="miter"/>
<polyline points="444,1135 444,1349" fill="none" stroke="#111" stroke-width="2.05" stroke-linejoin="miter"/>
<g stroke="#111" fill="none"><path stroke-width="2.3" d="M168.8 1311.4L179.2 1324M168.8 1324L179.2 1311.4"/><path stroke-width="1.5" d="M168.5 1317.7L179.5 1317.7M174 1311.4L174 1324"/><path stroke-width="1.6" d="M168.5 1312.2L168.5 1323.2M179.5 1312.2L179.5 1323.2"/><path stroke-width="1.6" d="M168.5 1311.4L179.5 1311.4M168.5 1324L179.5 1324"/></g>
<g stroke="#111" fill="none"><path stroke-width="2.3" d="M248.8 1252.7L259.2 1265.3M248.8 1265.3L259.2 1252.7"/><path stroke-width="1.5" d="M248.5 1259L259.5 1259M254 1252.7L254 1265.3"/><path stroke-width="1.6" d="M248.5 1253.5L248.5 1264.5M259.5 1253.5L259.5 1264.5"/><path stroke-width="1.6" d="M248.5 1252.7L259.5 1252.7M248.5 1265.3L259.5 1265.3"/></g>
<g stroke="#111" fill="none"><path stroke-width="2.3" d="M283.8 1236.7L294.2 1249.3M283.8 1249.3L294.2 1236.7"/><path stroke-width="1.5" d="M283.5 1243L294.5 1243M289 1236.7L289 1249.3"/><path stroke-width="1.6" d="M283.5 1237.5L283.5 1248.5M294.5 1237.5L294.5 1248.5"/><path stroke-width="1.6" d="M283.5 1236.7L294.5 1236.7M283.5 1249.3L294.5 1249.3"/></g>
<g stroke="#111" fill="none"><path stroke-width="2.3" d="M263.8 1285.6L274.2 1297.6M263.8 1297.6L274.2 1285.6"/><path stroke-width="1.5" d="M260 1291.6L278 1291.6M269 1285.6L269 1297.6"/><path stroke-width="1.6" d="M260 1286.1L260 1297.1M278 1286.1L278 1297.1"/><path stroke-width="1.6" d="M263.5 1285.6L274.5 1285.6M263.5 1297.6L274.5 1297.6"/></g>
<g stroke="#111" fill="none"><path stroke-width="2.3" d="M275.1 1192.5L285.5 1207.5M275.1 1207.5L285.5 1192.5"/><path stroke-width="1.5" d="M275.8 1200L284.8 1200M280.3 1192.5L280.3 1207.5"/><path stroke-width="1.6" d="M275.8 1194.5L275.8 1205.5M284.8 1194.5L284.8 1205.5"/><path stroke-width="1.6" d="M274.8 1192.5L285.8 1192.5M274.8 1207.5L285.8 1207.5"/></g>
<g stroke="#111" fill="none"><path stroke-width="2.3" d="M508.4 1324.6L518.8 1336.6M508.4 1336.6L518.8 1324.6"/><path stroke-width="1.5" d="M505.1 1330.6L522.1 1330.6M513.6 1324.6L513.6 1336.6"/><path stroke-width="1.6" d="M505.1 1325.1L505.1 1336.1M522.1 1325.1L522.1 1336.1"/><path stroke-width="1.6" d="M508.1 1324.6L519.1 1324.6M508.1 1336.6L519.1 1336.6"/></g>
<path d="M52.4 950.3L52.4 1348.7L575 1348.7" fill="none" stroke="#111" stroke-width="2.2"/>
<path d="M46.6 1348.7L52.4 1348.7" stroke="#111" stroke-width="2"/>
<text x="38.8" y="1354.5" font-size="14.8" text-anchor="end" font-weight="normal" fill="#231f20" stroke="#231f20" stroke-width="0.35" >0</text>
<path d="M46.6 1299L52.4 1299" stroke="#111" stroke-width="2"/>
<text x="38.8" y="1304.8" font-size="14.8" text-anchor="end" font-weight="normal" fill="#231f20" stroke="#231f20" stroke-width="0.35" >2</text>
<path d="M46.6 1249.2L52.4 1249.2" stroke="#111" stroke-width="2"/>
<text x="38.8" y="1255" font-size="14.8" text-anchor="end" font-weight="normal" fill="#231f20" stroke="#231f20" stroke-width="0.35" >4</text>
<path d="M46.6 1199.5L52.4 1199.5" stroke="#111" stroke-width="2"/>
<text x="38.8" y="1205.3" font-size="14.8" text-anchor="end" font-weight="normal" fill="#231f20" stroke="#231f20" stroke-width="0.35" >6</text>
<path d="M46.6 1149.7L52.4 1149.7" stroke="#111" stroke-width="2"/>
<text x="38.8" y="1155.5" font-size="14.8" text-anchor="end" font-weight="normal" fill="#231f20" stroke="#231f20" stroke-width="0.35" >8</text>
<path d="M46.6 1100L52.4 1100" stroke="#111" stroke-width="2"/>
<text x="38.8" y="1105.8" font-size="14.8" text-anchor="end" font-weight="normal" fill="#231f20" stroke="#231f20" stroke-width="0.35" >10</text>
<path d="M46.6 1050.3L52.4 1050.3" stroke="#111" stroke-width="2"/>
<text x="38.8" y="1056.1" font-size="14.8" text-anchor="end" font-weight="normal" fill="#231f20" stroke="#231f20" stroke-width="0.35" >12</text>
<path d="M46.6 1000.5L52.4 1000.5" stroke="#111" stroke-width="2"/>
<text x="38.8" y="1006.3" font-size="14.8" text-anchor="end" font-weight="normal" fill="#231f20" stroke="#231f20" stroke-width="0.35" >14</text>
<path d="M46.6 950.8L52.4 950.8" stroke="#111" stroke-width="2"/>
<text x="38.8" y="956.6" font-size="14.8" text-anchor="end" font-weight="normal" fill="#231f20" stroke="#231f20" stroke-width="0.35" >16</text>
<path d="M52.5 1348.7L52.5 1354.5" stroke="#111" stroke-width="2"/>
<text x="52.5" y="1373.2" font-size="14.8" text-anchor="middle" font-weight="normal" fill="#231f20" stroke="#231f20" stroke-width="0.35" >36</text>
<path d="M117.7 1348.7L117.7 1354.5" stroke="#111" stroke-width="2"/>
<text x="117.7" y="1373.2" font-size="14.8" text-anchor="middle" font-weight="normal" fill="#231f20" stroke="#231f20" stroke-width="0.35" >41</text>
<path d="M182.9 1348.7L182.9 1354.5" stroke="#111" stroke-width="2"/>
<text x="182.9" y="1373.2" font-size="14.8" text-anchor="middle" font-weight="normal" fill="#231f20" stroke="#231f20" stroke-width="0.35" >46</text>
<path d="M248.1 1348.7L248.1 1354.5" stroke="#111" stroke-width="2"/>
<text x="248.1" y="1373.2" font-size="14.8" text-anchor="middle" font-weight="normal" fill="#231f20" stroke="#231f20" stroke-width="0.35" >51</text>
<path d="M313.3 1348.7L313.3 1354.5" stroke="#111" stroke-width="2"/>
<text x="313.3" y="1373.2" font-size="14.8" text-anchor="middle" font-weight="normal" fill="#231f20" stroke="#231f20" stroke-width="0.35" >56</text>
<path d="M378.5 1348.7L378.5 1354.5" stroke="#111" stroke-width="2"/>
<text x="378.5" y="1373.2" font-size="14.8" text-anchor="middle" font-weight="normal" fill="#231f20" stroke="#231f20" stroke-width="0.35" >61</text>
<path d="M443.7 1348.7L443.7 1354.5" stroke="#111" stroke-width="2"/>
<text x="443.7" y="1373.2" font-size="14.8" text-anchor="middle" font-weight="normal" fill="#231f20" stroke="#231f20" stroke-width="0.35" >66</text>
<path d="M508.9 1348.7L508.9 1354.5" stroke="#111" stroke-width="2"/>
<text x="508.9" y="1373.2" font-size="14.8" text-anchor="middle" font-weight="normal" fill="#231f20" stroke="#231f20" stroke-width="0.35" >71</text>
<path d="M574.1 1348.7L574.1 1354.5" stroke="#111" stroke-width="2"/>
<text x="574.1" y="1373.2" font-size="14.8" text-anchor="middle" font-weight="normal" fill="#231f20" stroke="#231f20" stroke-width="0.35" >76</text>
<text x="318" y="1390" font-size="15" font-weight="bold" fill="#231f20" text-anchor="middle">SiO<tspan font-size="9.5" dy="3">2</tspan><tspan dy="-3"> (wt%)</tspan></text>
<text transform="translate(16 1152) rotate(-90)" font-size="15" font-weight="bold" fill="#231f20" text-anchor="middle">Na<tspan font-size="9.5" dy="3">2</tspan><tspan dy="-3">O+K</tspan><tspan font-size="9.5" dy="3">2</tspan><tspan dy="-3">O (wt%)</tspan></text>
<text x="69.6" y="967.5" font-size="22.7" text-anchor="start" font-weight="normal" fill="#231f20" stroke="#231f20" stroke-width="0.15" >Roques de Garcia</text>
<text x="69.6" y="995.5" font-size="22.7" text-anchor="start" font-weight="normal" fill="#231f20" stroke="#231f20" stroke-width="0.15" >Deposit</text>
<text x="527.4" y="1335.2" font-size="15.2" text-anchor="start" font-weight="normal" fill="#333" stroke="#333" stroke-width="0.35" >SRM</text>
<path d="M458.4 996.1L463.2 1000.9M458.4 1000.9L463.2 996.1" stroke="#222" stroke-width="0.9" fill="none"/>
<text x="468" y="1003.8" font-size="14.85" text-anchor="start" font-weight="normal" fill="#231f20" stroke="#231f20" stroke-width="0.35" >Rodehorst et al. 1998</text>
<path d="M492.7 1060.9L501.9 1070.1M492.7 1070.1L501.9 1060.9" stroke="#e8301c" stroke-width="2" fill="none"/>
<rect x="492.5" y="1087.6" width="9.6" height="9.6" fill="#1f3460"/>
<path d="M497.3 1114.1L501.9 1118.7L497.3 1123.3L492.7 1118.7Z" fill="#8b8685"/>
<circle cx="497.3" cy="1145.2" r="5" fill="#fdb913"/>
<text x="505.5" y="1072" font-size="14.8" text-anchor="start" font-weight="normal" fill="#231f20" stroke="#231f20" stroke-width="0.35" >SBU1</text>
<text x="505.5" y="1098.9" font-size="14.8" text-anchor="start" font-weight="normal" fill="#231f20" stroke="#231f20" stroke-width="0.35" >SBU2</text>
<text x="505.5" y="1125.2" font-size="14.8" text-anchor="start" font-weight="normal" fill="#231f20" stroke="#231f20" stroke-width="0.35" >SBU3</text>
<text x="505.5" y="1151.7" font-size="14.8" text-anchor="start" font-weight="normal" fill="#231f20" stroke="#231f20" stroke-width="0.35" >SBU4</text>
<path d="M605.4 953H656.9V1049.7H605.4" fill="none" stroke="#231f20" stroke-width="1.4"/>
<text transform="translate(632.4 1039.2) rotate(-90)" font-size="15.4" fill="#231f20" stroke="#231f20" stroke-width="0.35">Terminal</text>
<text transform="translate(650.3 1039.2) rotate(-90)" font-size="15.3" fill="#231f20" stroke="#231f20" stroke-width="0.35">Ucanca Fm</text>
</svg></body></html>
